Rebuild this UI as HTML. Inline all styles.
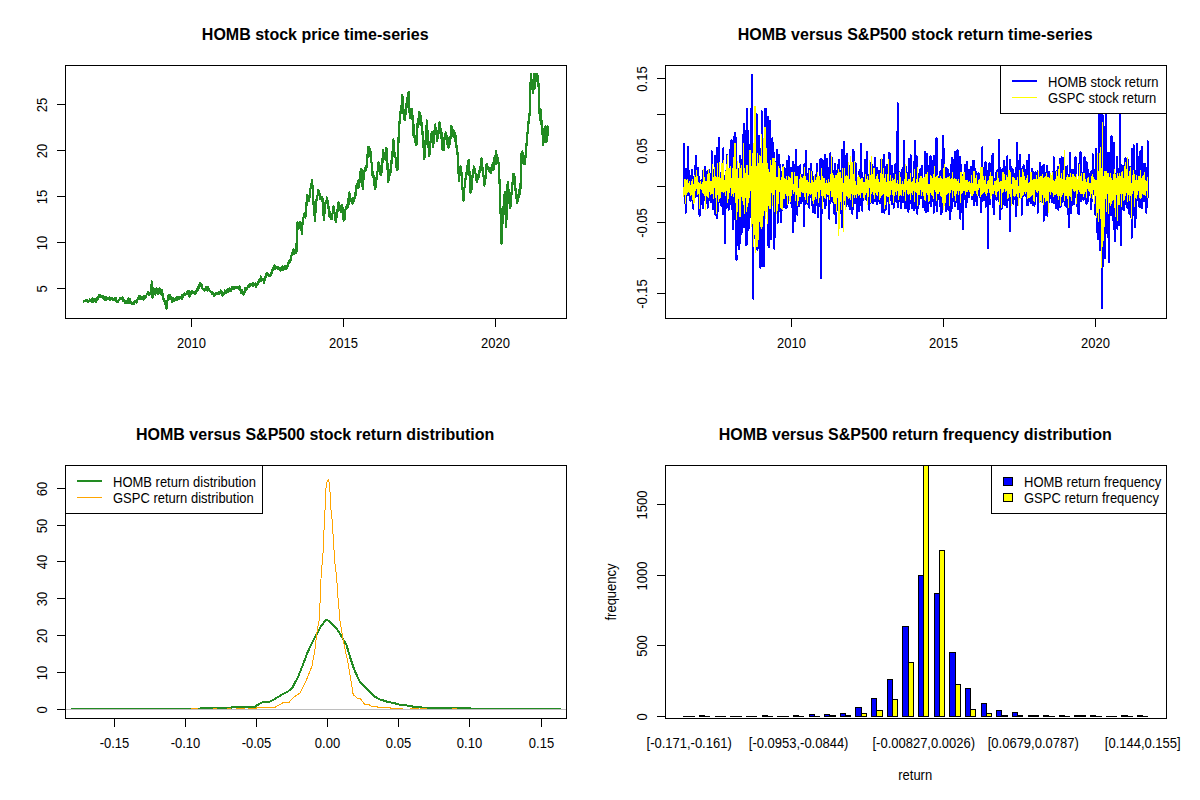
<!DOCTYPE html>
<html><head><meta charset="utf-8"><title>HOMB</title>
<style>html,body{margin:0;padding:0;background:#fff;}svg{display:block;}text{fill:#000;}</style>
</head><body>
<svg width="1200" height="800" viewBox="0 0 1200 800" font-family="Liberation Sans, sans-serif">
<rect width="1200" height="800" fill="#fff"/>
<clipPath id="c00"><rect x="65" y="65" width="502" height="254"/></clipPath>
<clipPath id="c01"><rect x="65" y="465" width="502" height="254"/></clipPath>
<clipPath id="c10"><rect x="665" y="65" width="502" height="254"/></clipPath>
<clipPath id="c11"><rect x="665" y="465" width="502" height="254"/></clipPath>
<g clip-path="url(#c00)">
<polyline points="83.9,301.5 84.4,300.9 84.9,301.3 85.4,300.7 85.9,301.4 86.4,300.0 86.9,301.4 87.4,300.0 87.9,302.3 88.1,301.8 88.4,302.1 88.9,300.8 89.4,301.0 89.9,299.5 90.4,300.2 90.8,299.9 90.9,301.4 91.4,299.3 91.9,302.0 92.4,298.3 92.9,301.8 93.4,299.4 93.9,301.1 94.4,299.3 94.9,299.7 95.4,299.3 95.9,302.3 96.3,299.4 96.4,299.3 96.9,298.5 97.4,299.8 97.9,296.9 98.4,297.9 98.9,295.3 99.0,296.1 99.4,295.2 99.9,296.2 100.4,295.2 100.9,296.9 101.4,296.2 101.9,296.5 102.4,296.3 102.8,296.4 102.9,296.5 103.4,298.9 103.9,296.4 104.4,299.8 104.9,299.6 105.4,300.2 105.9,297.0 106.4,300.0 106.9,297.6 107.4,298.9 107.9,298.0 108.4,298.8 108.9,297.6 109.2,298.3 109.4,297.6 109.9,300.1 110.4,297.8 110.9,298.9 111.4,298.3 111.9,299.1 112.4,297.7 112.9,299.8 113.4,299.1 113.9,300.4 114.4,298.2 114.7,299.6 114.9,298.8 115.4,300.7 115.9,298.0 116.4,301.0 116.9,300.6 117.4,302.4 117.9,301.2 118.4,301.1 118.9,299.9 119.4,300.1 119.9,297.6 120.1,299.1 120.4,298.7 120.9,299.4 121.4,298.8 121.9,299.1 122.4,297.6 122.8,298.8 122.9,298.4 123.4,301.0 123.9,299.7 124.4,301.3 124.9,301.2 125.4,303.1 125.5,302.9 125.9,302.6 126.4,301.6 126.9,303.4 127.4,301.2 127.9,303.2 128.4,298.6 128.8,300.7 128.9,299.8 129.4,301.5 129.9,299.3 130.4,303.3 130.9,302.1 131.4,303.5 131.5,303.4 131.9,303.5 132.4,302.9 132.9,303.7 133.4,302.2 133.9,303.8 134.4,302.3 134.9,302.3 135.4,300.9 135.9,302.2 136.3,301.8 136.4,302.8 136.9,300.7 137.4,300.3 137.9,298.8 138.4,298.8 138.9,295.7 139.4,298.5 139.6,296.9 139.9,299.4 140.4,296.2 140.9,299.4 141.4,296.7 141.9,298.7 142.4,297.1 142.9,298.3 143.0,298.2 143.4,299.5 143.9,296.4 144.4,297.9 144.9,297.4 145.4,297.8 145.9,296.4 146.0,297.5 146.4,295.3 146.9,294.0 147.0,293.5 147.4,294.2 147.9,292.0 148.4,294.9 148.9,293.3 149.4,294.6 149.9,293.5 150.0,293.5 150.4,292.3 150.9,292.3 151.2,291.0 151.4,288.3 151.8,281.5 151.9,286.1 152.3,296.5 152.4,297.7 152.9,291.5 153.4,289.9 153.5,288.0 153.9,291.2 154.4,289.9 154.9,293.8 155.0,294.0 155.4,294.4 155.9,289.6 156.4,288.4 156.5,288.0 156.9,290.5 157.4,291.1 157.9,294.2 158.0,294.0 158.4,293.7 158.9,289.0 159.4,289.9 159.5,288.0 159.9,289.8 160.4,291.3 160.9,293.6 161.0,293.5 161.4,292.8 161.9,290.0 162.0,290.0 162.4,293.4 162.9,299.0 163.0,298.5 163.4,299.3 163.9,298.8 164.4,301.5 164.5,300.0 164.9,303.0 165.4,304.0 165.9,307.1 166.4,307.9 166.5,308.8 166.9,304.5 167.4,301.4 167.5,300.0 167.9,299.8 168.4,295.4 168.5,296.0 168.9,295.3 169.4,298.7 169.9,295.2 170.0,297.0 170.4,295.8 170.9,299.5 171.4,298.3 171.9,300.3 172.0,300.5 172.4,302.4 172.9,298.1 173.4,300.8 173.9,300.4 174.4,300.8 174.9,300.5 175.0,300.5 175.4,298.3 175.9,299.6 176.4,297.6 176.9,300.0 177.0,298.0 177.4,298.1 177.9,297.5 178.4,299.1 178.9,297.3 179.4,299.1 179.9,297.0 180.0,298.0 180.4,296.8 180.9,297.8 181.4,296.6 181.9,299.0 182.4,294.7 182.9,297.0 183.4,295.5 183.9,295.3 184.4,293.3 184.9,295.1 185.0,294.5 185.4,294.5 185.9,294.1 186.4,294.3 186.9,292.5 187.4,293.7 187.9,291.0 188.4,294.1 188.9,290.9 189.4,296.6 189.9,292.1 190.4,294.1 190.9,292.3 191.4,293.5 191.9,291.0 192.0,292.0 192.4,292.0 192.9,292.5 193.4,292.6 193.9,293.0 194.4,292.3 194.9,294.1 195.0,293.5 195.4,294.0 195.9,291.3 196.4,291.8 196.9,288.8 197.4,290.6 197.9,288.1 198.4,287.4 198.9,285.0 199.4,287.5 199.9,283.0 200.0,284.5 200.4,284.3 200.9,286.4 201.4,283.9 201.9,288.0 202.4,288.4 202.9,289.4 203.0,289.5 203.4,289.7 203.9,289.1 204.4,290.6 204.9,288.7 205.4,289.0 205.9,287.2 206.4,289.5 206.9,288.3 207.4,290.7 207.9,286.7 208.0,288.5 208.4,287.9 208.9,290.2 209.4,289.9 209.9,290.8 210.4,290.8 210.9,291.9 211.4,292.1 211.9,294.4 212.4,292.6 212.9,293.9 213.4,293.7 213.9,295.6 214.0,295.0 214.4,295.4 214.9,294.5 215.4,294.7 215.9,292.8 216.4,293.9 216.9,292.6 217.4,293.7 217.9,292.8 218.4,293.1 218.9,292.4 219.4,294.1 219.9,291.8 220.4,292.8 220.9,290.5 221.0,291.5 221.4,291.5 221.9,294.8 222.4,293.6 222.9,295.5 223.0,295.0 223.4,294.5 223.9,292.8 224.4,293.9 224.9,290.5 225.4,292.5 225.9,291.4 226.0,291.5 226.4,290.9 226.9,292.5 227.4,289.5 227.9,292.0 228.4,289.3 228.9,291.3 229.4,288.1 229.9,289.8 230.4,288.7 230.9,291.3 231.0,289.0 231.4,289.6 231.9,287.2 232.4,288.6 232.9,286.8 233.4,289.4 233.9,287.1 234.4,289.0 234.9,287.3 235.4,288.1 235.9,287.4 236.4,287.7 236.9,287.0 237.4,287.5 237.9,287.0 238.0,287.0 238.4,287.4 238.9,288.6 239.4,286.5 239.9,289.9 240.4,289.7 240.9,292.3 241.0,290.5 241.4,293.4 241.9,290.3 242.4,293.7 242.9,292.7 243.4,294.5 243.5,294.5 243.9,294.0 244.4,291.7 244.9,292.1 245.4,287.8 245.9,289.5 246.0,289.0 246.4,289.9 246.9,288.0 247.4,287.8 247.9,285.8 248.4,286.7 248.9,284.8 249.4,286.9 249.9,283.9 250.4,285.8 250.9,283.6 251.0,284.0 251.4,283.9 251.9,284.6 252.4,283.8 252.9,285.8 253.4,282.8 253.9,285.4 254.4,284.3 254.9,284.9 255.4,283.6 255.9,286.8 256.4,284.0 256.9,285.2 257.0,285.0 257.4,284.8 257.9,282.4 258.4,283.0 258.9,280.5 259.4,282.2 259.9,279.4 260.4,280.0 260.9,276.5 261.0,278.5 261.4,278.1 261.9,280.6 262.4,279.0 262.9,280.1 263.4,278.8 263.9,283.3 264.0,280.5 264.4,281.4 264.9,277.8 265.4,277.7 265.9,274.5 266.4,275.7 266.9,273.1 267.0,274.0 267.4,273.0 267.9,275.0 268.4,273.7 268.9,275.8 269.4,275.1 269.9,276.0 270.0,276.0 270.4,276.0 270.9,273.6 271.4,274.1 271.9,270.2 272.4,270.7 272.9,268.4 273.4,270.3 273.9,267.2 274.0,267.0 274.4,265.6 274.9,267.9 275.4,266.0 275.9,268.5 276.0,266.5 276.4,267.3 276.9,267.0 277.4,268.7 277.9,267.4 278.4,268.8 278.9,268.3 279.4,269.5 279.9,268.6 280.0,270.0 280.4,269.7 280.9,270.6 281.4,267.9 281.9,268.8 282.4,266.2 282.9,268.9 283.0,268.0 283.4,270.2 283.9,267.8 284.4,269.2 284.9,265.8 285.4,269.1 285.9,266.7 286.4,269.0 286.9,267.0 287.0,267.5 287.4,265.6 287.9,266.0 288.4,263.0 288.9,263.3 289.4,260.2 289.9,262.0 290.0,260.0 290.4,261.5 290.9,256.8 291.4,256.2 291.9,254.3 292.4,253.0 292.9,251.2 293.0,251.0 293.4,249.5 293.9,253.7 294.4,249.8 294.9,253.6 295.4,250.5 295.9,253.1 296.4,250.5 296.5,252.0 296.8,228.6 296.9,231.3 297.4,222.3 297.9,228.5 298.4,224.8 298.9,228.6 299.4,226.0 299.9,226.2 300.4,222.1 300.9,226.9 301.1,224.7 301.4,229.6 301.9,232.5 302.0,234.3 302.4,224.5 302.9,220.8 303.4,218.4 303.9,216.3 304.4,213.6 304.6,212.9 304.9,214.6 305.4,217.8 305.9,205.0 306.4,206.2 306.9,197.5 307.2,195.4 307.4,195.7 307.9,198.9 308.4,196.9 308.9,200.5 309.0,200.6 309.4,197.9 309.9,191.0 310.4,189.5 310.9,186.1 311.4,186.5 311.9,179.5 312.1,181.4 312.4,184.3 312.9,193.8 313.4,200.6 313.9,209.7 314.4,211.9 314.9,220.8 315.0,219.0 315.4,213.4 315.9,199.7 316.0,203.2 316.4,201.0 316.9,199.6 317.4,195.8 317.9,195.6 318.4,189.7 318.6,191.4 318.9,191.2 319.4,195.0 319.9,193.7 320.4,198.9 320.9,198.3 321.4,198.7 321.9,197.0 322.1,198.0 322.4,197.4 322.9,208.8 323.4,213.3 323.9,219.9 324.4,213.9 324.9,211.2 325.4,203.8 325.6,202.4 325.9,201.1 326.4,202.3 326.9,197.5 327.4,202.3 327.8,200.6 327.9,204.1 328.4,205.6 328.9,214.4 329.4,213.3 329.6,217.2 329.9,211.5 330.4,217.8 330.9,213.4 331.4,219.4 331.8,216.4 331.9,218.7 332.4,213.2 332.9,212.8 333.4,206.2 333.9,208.5 334.4,212.0 334.9,216.5 335.4,217.0 335.7,222.0 335.9,219.7 336.4,218.0 336.9,213.3 337.4,212.4 337.9,204.6 338.3,203.7 338.4,202.2 338.9,207.0 339.4,204.6 339.9,209.8 340.4,209.7 340.9,212.0 341.4,207.0 341.9,210.8 342.2,205.0 342.4,206.6 342.9,210.5 343.4,219.9 343.8,219.9 343.9,220.6 344.4,214.5 344.9,218.7 345.4,209.8 345.8,208.5 345.9,207.4 346.4,209.1 346.9,206.9 347.4,208.2 347.9,198.9 348.4,205.0 348.8,195.8 348.9,197.8 349.4,192.6 349.9,200.9 350.4,198.2 350.9,200.8 351.4,199.0 351.9,203.4 352.4,202.9 352.8,203.7 352.9,198.4 353.4,202.3 353.9,200.3 354.4,199.6 354.9,194.2 355.4,196.2 355.9,186.6 356.2,186.6 356.4,186.0 356.9,186.7 357.4,183.5 357.9,188.4 358.4,180.8 358.9,187.3 359.3,184.4 359.4,184.1 359.8,174.4 359.9,177.2 360.4,171.2 360.9,173.0 361.4,168.8 361.5,170.0 361.9,174.8 362.4,185.6 362.8,188.0 362.9,189.1 363.4,179.9 363.9,176.4 364.1,171.8 364.4,172.3 364.9,168.2 365.4,170.9 365.9,170.3 366.4,168.7 366.9,159.1 367.4,158.2 367.9,148.0 368.4,155.6 368.5,146.7 368.9,148.0 369.4,148.3 369.9,155.8 370.4,151.3 370.5,152.0 370.9,155.5 371.4,162.3 371.9,163.1 372.4,175.7 372.5,171.6 372.9,176.3 373.4,175.3 373.9,181.2 374.4,183.5 374.9,189.1 375.1,188.7 375.4,188.0 375.9,180.6 376.4,180.7 376.9,173.1 377.0,175.5 377.4,171.7 377.9,169.4 378.4,162.4 378.9,165.4 379.4,164.7 379.9,174.2 380.4,168.3 380.9,174.9 381.0,174.2 381.4,173.5 381.9,165.6 382.4,163.7 382.9,149.9 383.0,155.9 383.4,154.4 383.9,159.4 384.4,153.2 384.9,156.9 385.4,152.5 385.9,160.5 386.4,147.7 386.9,153.2 387.4,162.1 387.9,181.6 388.2,182.1 388.4,181.4 388.9,176.4 389.4,176.5 389.9,170.2 390.4,173.4 390.9,163.7 391.4,164.2 391.5,161.1 391.9,159.5 392.4,151.6 392.9,156.4 393.4,139.2 393.5,142.7 393.9,141.8 394.4,156.5 394.9,153.3 395.4,157.2 395.9,157.5 396.4,167.7 396.9,165.4 397.4,170.3 397.9,149.9 398.4,144.3 398.7,134.9 398.9,133.0 399.4,123.9 399.9,118.0 400.0,115.2 400.4,114.6 400.9,106.0 401.4,112.4 401.9,101.3 402.0,100.7 402.4,95.1 402.9,113.2 403.4,108.3 403.9,117.9 404.4,113.0 404.6,120.4 404.9,117.6 405.4,114.8 405.9,109.0 406.4,107.0 406.6,103.4 406.9,106.6 407.4,97.4 407.9,106.7 408.4,93.4 408.8,91.6 408.9,91.6 409.4,109.0 409.9,117.8 410.4,116.2 410.9,109.1 411.4,111.7 411.8,108.6 411.9,116.7 412.4,114.9 412.9,125.6 413.1,128.3 413.4,135.6 413.9,125.0 414.4,137.6 414.9,135.6 415.4,142.7 415.9,140.6 416.4,145.4 416.9,129.8 417.4,129.1 417.7,120.4 417.9,123.1 418.4,118.2 418.9,124.1 419.4,112.0 419.9,121.9 420.4,114.3 420.9,123.0 421.0,120.4 421.4,125.3 421.9,122.5 422.4,134.0 422.9,132.2 423.0,138.8 423.4,141.6 423.9,156.6 424.3,158.5 424.4,159.2 424.9,142.8 425.4,144.9 425.9,134.6 426.4,129.1 426.9,120.4 427.4,130.3 427.9,135.0 428.4,147.1 428.9,148.5 429.3,155.9 429.4,153.4 429.9,154.3 430.4,143.0 430.9,139.0 431.3,133.6 431.4,139.4 431.9,131.5 432.4,141.4 432.9,140.0 433.2,146.8 433.4,144.0 433.9,139.6 434.4,130.8 434.9,128.2 435.2,124.4 435.4,128.3 435.9,127.6 436.4,134.8 436.9,135.3 437.2,141.5 437.4,136.5 437.9,138.6 438.4,130.4 438.9,133.4 439.4,122.5 439.8,124.4 439.9,125.1 440.4,132.9 440.9,129.3 441.4,138.6 441.9,133.0 442.4,149.8 442.9,147.0 443.1,150.0 443.4,146.9 443.9,149.9 444.4,137.6 444.9,138.3 445.1,133.6 445.4,134.7 445.9,132.4 446.4,139.5 446.9,136.3 447.4,144.1 447.9,138.2 448.4,147.8 448.9,143.0 449.0,144.1 449.4,140.9 449.9,144.2 450.4,136.7 450.9,137.7 451.4,125.8 451.9,136.3 452.4,129.6 452.9,129.7 453.4,129.7 453.9,136.8 454.4,131.5 454.9,141.2 455.4,134.7 455.6,136.2 455.9,138.3 456.4,147.7 456.9,145.9 457.4,154.0 457.5,152.0 457.9,163.8 458.4,165.5 458.8,180.9 458.9,179.4 459.4,177.0 459.9,167.4 460.4,172.2 460.8,166.4 460.9,169.2 461.4,172.0 461.9,182.1 462.4,186.6 462.9,194.7 463.4,200.6 463.9,196.1 464.4,187.8 464.9,186.2 465.4,178.8 465.9,179.5 466.0,175.6 466.4,175.3 466.9,167.0 467.4,168.0 467.9,161.1 468.4,165.4 468.7,159.9 468.9,169.8 469.4,171.0 469.9,182.3 470.4,188.2 470.6,192.7 470.9,186.4 471.4,190.3 471.9,179.5 472.4,178.7 472.9,170.2 473.4,171.0 473.9,166.4 474.4,169.7 474.9,168.9 475.4,173.7 475.9,174.5 476.4,179.9 476.9,174.5 477.2,182.2 477.4,179.3 477.9,179.4 478.4,176.5 478.9,177.6 479.4,170.7 479.9,172.1 480.4,167.0 480.9,169.1 481.4,158.5 481.8,161.2 481.9,160.0 482.4,170.3 482.9,167.6 483.4,176.4 483.9,177.0 484.4,185.5 484.9,177.7 485.4,178.9 485.9,168.9 486.4,165.1 486.9,163.7 487.4,168.9 487.9,166.6 488.4,168.6 488.9,167.7 489.4,171.8 489.9,170.9 490.4,172.1 490.9,171.1 491.0,173.0 491.4,168.1 491.9,170.3 492.4,165.0 492.9,169.8 493.4,162.2 493.9,169.6 494.4,157.6 494.9,161.2 495.4,155.6 495.6,155.9 495.9,150.8 496.4,164.1 496.9,155.3 497.4,161.7 497.9,157.9 498.4,163.9 498.9,162.5 499.4,178.3 499.9,191.4 500.4,207.7 500.9,221.5 501.4,243.8 501.5,243.0 501.9,237.4 502.4,224.2 502.9,217.3 503.1,213.0 503.4,210.0 503.9,200.3 504.4,198.5 504.7,192.2 504.9,197.2 505.4,208.4 505.9,224.1 506.1,226.9 506.4,220.8 506.9,204.3 507.4,190.5 507.7,181.8 507.9,187.1 508.4,189.0 508.9,196.3 509.4,201.1 509.9,207.4 510.0,208.4 510.4,207.0 510.9,198.5 511.4,195.7 511.9,187.3 512.4,185.6 512.9,178.5 513.4,176.0 513.5,173.7 513.9,178.1 514.4,176.0 514.9,188.0 515.4,187.6 515.9,194.5 516.4,196.5 516.9,201.9 517.0,202.6 517.4,201.8 517.9,194.6 518.4,198.0 518.9,189.6 519.4,194.6 519.9,189.8 520.4,189.9 520.9,173.8 521.4,160.0 521.6,152.9 521.9,159.7 522.4,151.4 522.9,163.3 523.4,154.5 523.9,164.4 524.4,157.0 524.9,164.0 525.0,162.1 525.4,158.5 525.9,150.6 526.4,146.2 526.9,138.1 527.4,134.4 527.9,128.6 528.4,124.8 528.9,115.3 529.4,116.7 529.7,111.2 529.9,108.6 530.4,89.0 530.8,76.6 530.9,74.0 531.4,82.1 531.9,79.8 532.4,89.0 532.9,87.1 533.2,92.8 533.4,85.1 533.9,89.0 534.4,74.0 534.9,87.8 535.4,74.0 535.9,80.4 536.2,74.2 536.4,79.9 536.9,74.0 537.4,81.7 537.9,75.8 538.4,85.9 538.9,83.5 539.4,113.6 539.9,109.0 540.4,120.2 540.9,110.1 541.2,120.5 541.4,119.8 541.9,130.5 542.4,127.8 542.9,145.4 543.1,143.6 543.4,143.8 543.9,131.1 544.4,133.3 544.7,127.4 544.9,129.3 545.4,126.3 545.9,141.6 546.3,139.0 546.4,142.1 546.9,131.6 547.4,128.3 547.5,126.3 547.9,134.3 548.0,135.0" fill="none" stroke="#228B22" stroke-width="2.2" stroke-linejoin="round" stroke-linecap="round" shape-rendering="crispEdges"/>
</g>
<rect x="65.5" y="65.5" width="501" height="253" fill="none" stroke="#000" stroke-width="1"/>
<line x1="191.5" y1="318" x2="191.5" y2="327" stroke="#000" stroke-width="1"/>
<text x="0" y="0" transform="translate(191.50,348.00) scale(1,1.075)" text-anchor="middle" font-size="13">2010</text>
<line x1="343.5" y1="318" x2="343.5" y2="327" stroke="#000" stroke-width="1"/>
<text x="0" y="0" transform="translate(343.50,348.00) scale(1,1.075)" text-anchor="middle" font-size="13">2015</text>
<line x1="495.5" y1="318" x2="495.5" y2="327" stroke="#000" stroke-width="1"/>
<text x="0" y="0" transform="translate(495.50,348.00) scale(1,1.075)" text-anchor="middle" font-size="13">2020</text>
<line x1="57" y1="288.5" x2="66" y2="288.5" stroke="#000" stroke-width="1"/>
<text x="0" y="0" transform="translate(47.30,289.00) rotate(-90) scale(1,1.075)" text-anchor="middle" font-size="13">5</text>
<line x1="57" y1="242.5" x2="66" y2="242.5" stroke="#000" stroke-width="1"/>
<text x="0" y="0" transform="translate(47.30,243.00) rotate(-90) scale(1,1.075)" text-anchor="middle" font-size="13">10</text>
<line x1="57" y1="196.5" x2="66" y2="196.5" stroke="#000" stroke-width="1"/>
<text x="0" y="0" transform="translate(47.30,197.00) rotate(-90) scale(1,1.075)" text-anchor="middle" font-size="13">15</text>
<line x1="57" y1="150.5" x2="66" y2="150.5" stroke="#000" stroke-width="1"/>
<text x="0" y="0" transform="translate(47.30,151.00) rotate(-90) scale(1,1.075)" text-anchor="middle" font-size="13">20</text>
<line x1="57" y1="104.5" x2="66" y2="104.5" stroke="#000" stroke-width="1"/>
<text x="0" y="0" transform="translate(47.30,105.00) rotate(-90) scale(1,1.075)" text-anchor="middle" font-size="13">25</text>
<text x="0" y="0" transform="translate(315.20,40.00) scale(1,1.0)" text-anchor="middle" font-size="16" font-weight="bold">HOMB stock price time-series</text>
<g clip-path="url(#c10)">
<polyline points="683.9,196.2 684.0,144.0 684.1,185.0 684.3,195.6 684.4,174.7 684.5,184.8 684.6,172.4 684.7,202.7 684.9,178.1 685.0,185.9 685.1,191.5 685.2,175.5 685.3,188.9 685.5,198.7 685.6,212.9 685.7,193.9 685.8,183.1 685.9,190.8 686.1,193.9 686.2,199.7 686.3,172.4 686.4,168.5 686.6,193.6 686.7,180.7 686.8,193.5 686.9,190.8 687.0,175.9 687.2,184.2 687.3,173.8 687.4,179.2 687.5,191.9 687.6,178.8 687.8,146.5 687.9,195.2 688.0,192.1 688.1,194.0 688.2,177.1 688.4,186.6 688.5,184.2 688.6,183.6 688.7,186.2 688.8,192.6 689.0,170.5 689.1,177.2 689.2,189.1 689.3,186.4 689.4,196.1 689.6,189.5 689.7,197.6 689.8,198.2 689.9,191.6 690.0,200.1 690.2,193.3 690.3,200.7 690.4,182.4 690.5,198.5 690.7,184.0 690.8,199.8 690.9,186.9 691.0,185.5 691.1,185.9 691.3,185.4 691.4,193.8 691.5,175.5 691.6,192.3 691.7,182.5 691.9,192.5 692.0,170.2 692.1,192.3 692.2,180.7 692.3,178.8 692.5,190.5 692.6,181.4 692.7,183.2 692.8,197.1 692.9,188.6 693.1,186.3 693.2,178.7 693.3,208.8 693.4,187.4 693.5,200.7 693.7,195.6 693.8,190.1 693.9,179.6 694.0,195.1 694.1,179.2 694.3,189.4 694.4,180.6 694.5,176.0 694.6,198.1 694.8,166.4 694.9,170.2 695.0,176.8 695.1,188.4 695.2,192.2 695.4,186.4 695.5,179.8 695.6,180.2 695.7,172.9 695.8,182.3 696.0,190.5 696.1,191.4 696.2,169.5 696.3,186.9 696.4,155.6 696.6,178.1 696.7,191.3 696.8,187.9 696.9,189.5 697.0,192.8 697.2,195.4 697.3,196.1 697.4,185.2 697.5,187.7 697.6,193.5 697.8,187.8 697.9,167.7 698.0,189.2 698.1,185.7 698.2,183.3 698.4,184.2 698.5,182.8 698.6,182.5 698.7,177.7 698.9,177.1 699.0,194.7 699.1,179.2 699.2,187.2 699.3,178.5 699.5,214.8 699.6,215.7 699.7,191.5 699.8,187.2 699.9,181.0 700.1,181.9 700.2,187.2 700.3,200.0 700.4,182.4 700.5,191.7 700.7,196.2 700.8,181.6 700.9,183.7 701.0,186.4 701.1,193.8 701.3,181.5 701.4,182.1 701.5,186.5 701.6,190.7 701.7,183.1 701.9,192.7 702.0,182.4 702.1,204.0 702.2,196.9 702.3,179.7 702.5,186.5 702.6,189.4 702.7,208.2 702.8,197.4 703.0,171.0 703.1,189.8 703.2,187.6 703.3,188.3 703.4,177.3 703.6,191.2 703.7,189.5 703.8,177.0 703.9,187.1 704.0,175.4 704.2,199.2 704.3,188.7 704.4,199.6 704.5,185.1 704.6,186.1 704.8,166.7 704.9,185.3 705.0,190.4 705.1,192.0 705.2,187.1 705.4,191.7 705.5,178.6 705.6,188.7 705.7,192.8 705.8,203.2 706.0,197.4 706.1,185.7 706.2,188.9 706.3,187.5 706.4,189.3 706.6,184.3 706.7,197.0 706.8,179.5 706.9,186.4 707.1,185.7 707.2,194.0 707.3,193.8 707.4,182.2 707.5,170.7 707.7,207.6 707.8,174.4 707.9,192.6 708.0,196.3 708.1,180.8 708.3,193.9 708.4,183.1 708.5,173.2 708.6,180.4 708.7,196.3 708.9,169.7 709.0,191.9 709.1,180.1 709.2,177.7 709.3,200.0 709.5,188.4 709.6,191.6 709.7,183.6 709.8,179.5 709.9,191.8 710.1,191.6 710.2,182.8 710.3,187.5 710.4,200.2 710.5,191.3 710.7,185.2 710.8,193.3 710.9,187.2 711.0,202.4 711.2,183.0 711.3,173.7 711.4,177.1 711.5,193.4 711.6,150.8 711.8,200.6 711.9,170.4 712.0,175.0 712.1,184.0 712.2,195.9 712.4,161.7 712.5,189.8 712.6,205.6 712.7,176.0 712.8,196.8 713.0,180.7 713.1,188.1 713.2,209.5 713.3,184.3 713.4,184.0 713.6,178.1 713.7,169.8 713.8,171.8 713.9,198.8 714.0,183.1 714.2,175.6 714.3,190.2 714.4,182.1 714.5,191.2 714.6,187.5 714.8,164.3 714.9,171.7 715.0,190.9 715.1,155.9 715.2,184.4 715.4,197.7 715.5,215.4 715.6,185.3 715.7,177.9 715.9,196.7 716.0,168.4 716.1,186.1 716.2,191.5 716.3,168.7 716.5,177.7 716.6,188.6 716.7,163.5 716.8,201.7 716.9,217.8 717.1,147.8 717.2,195.8 717.3,200.2 717.4,198.7 717.5,182.9 717.7,183.6 717.8,173.8 717.9,196.6 718.0,173.7 718.1,154.5 718.3,180.8 718.4,210.9 718.5,174.6 718.6,178.0 718.7,202.8 718.9,164.0 719.0,138.0 719.1,164.8 719.2,149.8 719.3,199.1 719.5,196.6 719.6,181.3 719.7,172.9 719.8,189.9 720.0,183.9 720.1,180.4 720.2,179.6 720.3,202.4 720.4,190.3 720.6,200.9 720.7,182.0 720.8,178.0 720.9,200.7 721.0,187.7 721.2,199.8 721.3,204.2 721.4,206.1 721.5,189.3 721.6,172.2 721.8,203.8 721.9,180.9 722.0,171.5 722.1,173.9 722.2,182.8 722.4,180.2 722.5,180.6 722.6,176.5 722.7,210.4 722.8,195.1 723.0,182.8 723.1,214.2 723.2,177.0 723.3,148.2 723.4,185.5 723.6,194.6 723.7,199.8 723.8,195.6 723.9,182.2 724.1,196.6 724.2,188.3 724.3,211.9 724.4,176.4 724.5,180.9 724.7,187.9 724.8,177.5 724.9,216.9 725.0,243.0 725.1,211.9 725.3,186.0 725.4,188.6 725.5,196.6 725.6,187.8 725.7,170.8 725.9,171.7 726.0,177.2 726.1,189.2 726.2,191.4 726.3,203.3 726.5,176.2 726.6,177.8 726.7,207.6 726.8,196.8 726.9,154.9 727.1,167.5 727.2,189.5 727.3,195.0 727.4,190.7 727.5,176.9 727.7,198.8 727.8,170.6 727.9,183.2 728.0,192.8 728.2,202.5 728.3,187.6 728.4,203.0 728.5,199.2 728.6,209.7 728.8,199.5 728.9,183.6 729.0,193.9 729.1,172.3 729.2,178.3 729.4,185.4 729.5,195.6 729.6,175.3 729.7,186.8 729.8,174.1 730.0,201.9 730.1,150.0 730.2,183.9 730.3,173.9 730.4,199.3 730.6,174.0 730.7,199.8 730.8,144.1 730.9,203.8 731.0,178.2 731.2,186.3 731.3,182.1 731.4,156.2 731.5,140.0 731.6,199.1 731.8,209.6 731.9,142.6 732.0,199.6 732.1,196.6 732.3,187.9 732.4,146.6 732.5,188.0 732.6,150.8 732.7,197.4 732.9,228.9 733.0,168.0 733.1,184.1 733.2,178.4 733.3,155.0 733.5,193.0 733.6,173.8 733.7,202.9 733.8,156.1 733.9,154.4 734.1,175.1 734.2,190.5 734.3,136.7 734.4,198.7 734.5,219.1 734.7,195.9 734.8,189.6 734.9,191.8 735.0,133.1 735.1,168.7 735.3,199.8 735.4,161.7 735.5,188.0 735.6,193.5 735.7,185.3 735.9,198.1 736.0,220.0 736.1,210.9 736.2,137.5 736.4,189.2 736.5,259.5 736.6,194.3 736.7,180.5 736.8,174.0 737.0,219.5 737.1,192.3 737.2,180.8 737.3,203.3 737.4,180.9 737.6,181.1 737.7,229.9 737.8,201.7 737.9,176.5 738.0,195.8 738.2,195.0 738.3,193.9 738.4,201.8 738.5,168.7 738.6,183.4 738.8,199.9 738.9,185.2 739.0,200.0 739.1,188.0 739.2,249.0 739.4,209.8 739.5,177.1 739.6,211.2 739.7,180.1 739.8,206.9 740.0,242.7 740.1,164.0 740.2,155.5 740.3,180.7 740.5,196.9 740.6,169.7 740.7,192.5 740.8,199.8 740.9,185.8 741.1,190.0 741.2,215.3 741.3,169.3 741.4,195.3 741.5,234.4 741.7,206.8 741.8,217.6 741.9,160.2 742.0,191.4 742.1,177.5 742.3,206.1 742.4,172.9 742.5,183.6 742.6,192.2 742.7,181.4 742.9,190.3 743.0,199.0 743.1,180.6 743.2,134.4 743.3,223.2 743.5,163.2 743.6,205.0 743.7,177.7 743.8,201.3 743.9,123.5 744.1,215.5 744.2,183.0 744.3,227.5 744.4,226.3 744.6,205.9 744.7,178.6 744.8,183.1 744.9,207.8 745.0,177.3 745.2,131.4 745.3,166.4 745.4,161.3 745.5,145.0 745.6,197.5 745.8,245.6 745.9,222.6 746.0,165.1 746.1,226.2 746.2,182.8 746.4,203.7 746.5,167.7 746.6,208.8 746.7,165.4 746.8,244.7 747.0,204.7 747.1,162.6 747.2,108.5 747.3,189.8 747.4,138.0 747.6,221.2 747.7,230.1 747.8,229.9 747.9,210.6 748.0,182.3 748.2,182.8 748.3,131.1 748.4,192.8 748.5,211.0 748.6,229.2 748.8,201.5 748.9,154.8 749.0,179.9 749.1,148.4 749.3,193.5 749.4,224.1 749.5,176.2 749.6,161.2 749.7,172.6 749.9,162.0 750.0,144.6 750.1,152.3 750.2,193.0 750.3,184.6 750.5,216.8 750.6,169.5 750.7,108.5 750.8,193.5 750.9,197.2 751.1,185.6 751.2,174.4 751.3,164.3 751.4,136.2 751.5,200.3 751.7,108.5 751.8,158.9 751.9,216.3 752.0,74.5 752.1,212.4 752.3,155.0 752.4,190.2 752.5,150.1 752.6,155.0 752.7,210.1 752.9,169.9 753.0,196.6 753.1,147.3 753.2,205.5 753.4,299.0 753.5,188.8 753.6,205.1 753.7,202.2 753.8,152.1 754.0,237.9 754.1,191.7 754.2,188.8 754.3,193.7 754.4,201.9 754.6,194.5 754.7,163.3 754.8,160.2 754.9,175.9 755.0,176.0 755.2,224.1 755.3,209.2 755.4,157.1 755.5,207.7 755.6,190.7 755.8,200.0 755.9,169.6 756.0,177.1 756.1,242.8 756.2,196.8 756.4,189.3 756.5,197.0 756.6,205.5 756.7,199.6 756.8,114.3 757.0,186.4 757.1,163.0 757.2,215.4 757.3,182.9 757.5,250.4 757.6,235.1 757.7,208.9 757.8,185.4 757.9,195.1 758.1,201.4 758.2,169.1 758.3,245.9 758.4,241.7 758.5,192.8 758.7,148.9 758.8,136.2 758.9,200.3 759.0,248.6 759.1,190.6 759.3,207.8 759.4,198.4 759.5,213.1 759.6,251.1 759.7,185.3 759.9,198.8 760.0,162.5 760.1,148.4 760.2,158.2 760.3,198.0 760.5,267.5 760.6,225.1 760.7,202.6 760.8,183.0 760.9,207.6 761.1,197.3 761.2,179.9 761.3,197.2 761.4,220.1 761.6,111.0 761.7,266.5 761.8,165.1 761.9,130.7 762.0,266.5 762.2,128.0 762.3,187.4 762.4,169.0 762.5,197.9 762.6,195.7 762.8,202.7 762.9,232.9 763.0,197.8 763.1,188.9 763.2,211.0 763.4,183.1 763.5,146.0 763.6,224.7 763.7,186.5 763.8,216.7 764.0,266.5 764.1,150.6 764.2,151.1 764.3,140.1 764.4,154.5 764.6,180.1 764.7,173.6 764.8,209.3 764.9,166.1 765.0,108.5 765.2,159.2 765.3,196.6 765.4,165.0 765.5,177.6 765.7,199.6 765.8,152.1 765.9,204.8 766.0,108.5 766.1,194.0 766.3,164.9 766.4,175.6 766.5,201.1 766.6,131.5 766.7,161.2 766.9,147.0 767.0,190.5 767.1,201.5 767.2,177.6 767.3,167.2 767.5,163.9 767.6,149.3 767.7,203.5 767.8,245.2 767.9,117.0 768.1,222.7 768.2,203.1 768.3,163.2 768.4,165.9 768.5,215.5 768.7,194.5 768.8,188.0 768.9,154.1 769.0,190.5 769.1,246.8 769.3,176.1 769.4,195.0 769.5,120.5 769.6,161.8 769.8,174.0 769.9,238.3 770.0,181.9 770.1,209.3 770.2,194.8 770.4,205.0 770.5,194.7 770.6,186.9 770.7,211.2 770.8,174.2 771.0,239.0 771.1,219.6 771.2,197.3 771.3,145.1 771.4,150.8 771.6,178.3 771.7,144.4 771.8,174.3 771.9,171.7 772.0,188.1 772.2,195.3 772.3,138.2 772.4,181.9 772.5,142.3 772.6,175.8 772.8,192.3 772.9,195.6 773.0,145.3 773.1,171.4 773.2,198.3 773.4,184.4 773.5,167.0 773.6,157.0 773.7,157.5 773.9,196.6 774.0,152.4 774.1,160.6 774.2,222.0 774.3,177.9 774.5,249.1 774.6,178.4 774.7,229.2 774.8,207.5 774.9,194.5 775.1,187.8 775.2,211.1 775.3,186.2 775.4,197.5 775.5,185.1 775.7,203.8 775.8,173.7 775.9,161.9 776.0,163.3 776.1,188.7 776.3,193.3 776.4,183.1 776.5,193.0 776.6,184.7 776.7,195.9 776.9,189.0 777.0,203.0 777.1,187.6 777.2,150.0 777.3,196.4 777.5,172.3 777.6,222.7 777.7,207.5 777.8,172.9 777.9,185.2 778.1,193.3 778.2,209.1 778.3,196.9 778.4,166.9 778.6,174.6 778.7,211.6 778.8,154.7 778.9,209.1 779.0,170.3 779.2,194.0 779.3,184.2 779.4,189.2 779.5,191.1 779.6,164.4 779.8,185.5 779.9,184.3 780.0,182.3 780.1,193.2 780.2,195.5 780.4,170.9 780.5,184.0 780.6,195.8 780.7,184.8 780.8,222.3 781.0,196.5 781.1,171.8 781.2,205.8 781.3,190.6 781.4,185.1 781.6,187.4 781.7,206.9 781.8,187.9 781.9,200.4 782.0,178.4 782.2,200.8 782.3,204.2 782.4,210.3 782.5,172.8 782.7,206.0 782.8,177.3 782.9,183.6 783.0,201.1 783.1,164.6 783.3,171.2 783.4,205.0 783.5,177.9 783.6,196.3 783.7,178.3 783.9,175.3 784.0,207.3 784.1,171.5 784.2,184.5 784.3,186.4 784.5,186.5 784.6,168.1 784.7,179.9 784.8,175.2 784.9,185.1 785.1,175.8 785.2,180.2 785.3,174.5 785.4,182.4 785.5,180.1 785.7,193.6 785.8,171.7 785.9,188.7 786.0,188.5 786.1,194.2 786.3,198.3 786.4,208.5 786.5,191.1 786.6,197.1 786.8,177.7 786.9,162.6 787.0,190.9 787.1,182.6 787.2,207.0 787.4,160.8 787.5,186.0 787.6,203.8 787.7,178.4 787.8,196.0 788.0,197.4 788.1,179.5 788.2,192.4 788.3,193.7 788.4,188.2 788.6,156.4 788.7,183.7 788.8,188.0 788.9,194.3 789.0,179.5 789.2,195.3 789.3,189.2 789.4,179.5 789.5,195.7 789.6,187.5 789.8,184.8 789.9,178.7 790.0,168.3 790.1,171.3 790.2,185.2 790.4,188.4 790.5,171.2 790.6,181.2 790.7,185.2 790.9,203.1 791.0,175.7 791.1,180.2 791.2,186.7 791.3,167.8 791.5,178.1 791.6,190.4 791.7,201.2 791.8,191.5 791.9,207.4 792.1,186.9 792.2,173.6 792.3,171.3 792.4,180.4 792.5,194.0 792.7,193.5 792.8,172.0 792.9,181.1 793.0,232.0 793.1,162.2 793.3,190.1 793.4,191.7 793.5,215.3 793.6,193.6 793.7,184.3 793.9,194.5 794.0,192.6 794.1,187.1 794.2,180.0 794.3,174.3 794.5,211.4 794.6,173.5 794.7,185.0 794.8,171.2 795.0,189.4 795.1,221.4 795.2,165.1 795.3,187.4 795.4,181.3 795.6,187.9 795.7,179.8 795.8,181.3 795.9,150.2 796.0,181.4 796.2,173.9 796.3,190.7 796.4,175.6 796.5,187.5 796.6,185.3 796.8,189.4 796.9,201.0 797.0,171.5 797.1,194.8 797.2,214.7 797.4,191.9 797.5,184.8 797.6,177.5 797.7,184.2 797.8,178.3 798.0,178.6 798.1,175.8 798.2,167.2 798.3,203.2 798.4,188.3 798.6,190.4 798.7,187.9 798.8,199.7 798.9,206.2 799.1,190.1 799.2,200.4 799.3,184.1 799.4,193.0 799.5,188.3 799.7,203.2 799.8,167.5 799.9,191.3 800.0,168.4 800.1,190.5 800.3,169.6 800.4,164.9 800.5,189.4 800.6,187.2 800.7,183.4 800.9,184.6 801.0,195.5 801.1,203.0 801.2,200.3 801.3,187.7 801.5,191.9 801.6,193.4 801.7,174.6 801.8,175.9 801.9,187.3 802.1,193.2 802.2,196.9 802.3,178.0 802.4,185.9 802.5,186.2 802.7,186.0 802.8,196.3 802.9,192.4 803.0,200.4 803.2,201.1 803.3,181.3 803.4,183.3 803.5,181.5 803.6,175.2 803.8,186.6 803.9,183.0 804.0,226.0 804.1,173.3 804.2,198.6 804.4,195.4 804.5,164.4 804.6,179.6 804.7,180.6 804.8,183.4 805.0,189.5 805.1,175.9 805.2,204.5 805.3,171.5 805.4,181.4 805.6,165.8 805.7,196.7 805.8,183.7 805.9,172.0 806.0,187.9 806.2,150.6 806.3,184.2 806.4,173.2 806.5,180.1 806.6,187.8 806.8,196.7 806.9,190.8 807.0,203.0 807.1,178.9 807.3,200.2 807.4,176.8 807.5,201.7 807.6,186.5 807.7,195.3 807.9,174.0 808.0,182.1 808.1,187.3 808.2,185.8 808.3,184.7 808.5,204.6 808.6,201.4 808.7,190.3 808.8,176.1 808.9,169.0 809.1,194.7 809.2,186.1 809.3,187.3 809.4,207.7 809.5,181.7 809.7,184.9 809.8,195.0 809.9,189.5 810.0,176.7 810.1,184.2 810.3,196.7 810.4,195.3 810.5,194.4 810.6,183.0 810.7,190.0 810.9,186.5 811.0,178.3 811.1,175.9 811.2,164.0 811.3,186.5 811.5,170.6 811.6,198.7 811.7,192.2 811.8,183.4 812.0,184.9 812.1,191.5 812.2,204.8 812.3,180.4 812.4,181.9 812.6,183.1 812.7,194.3 812.8,177.1 812.9,180.9 813.0,183.8 813.2,206.4 813.3,212.3 813.4,212.5 813.5,196.0 813.6,196.5 813.8,182.9 813.9,183.3 814.0,180.1 814.1,186.4 814.2,210.1 814.4,187.3 814.5,205.1 814.6,213.5 814.7,177.6 814.8,183.5 815.0,175.7 815.1,179.9 815.2,192.8 815.3,192.4 815.4,189.5 815.6,198.5 815.7,196.7 815.8,176.3 815.9,203.2 816.1,184.9 816.2,204.3 816.3,193.2 816.4,175.1 816.5,174.1 816.7,205.5 816.8,189.5 816.9,171.0 817.0,163.4 817.1,184.8 817.3,185.3 817.4,190.1 817.5,186.5 817.6,186.2 817.7,186.9 817.9,180.0 818.0,197.1 818.1,196.7 818.2,217.6 818.3,194.4 818.5,177.5 818.6,184.3 818.7,177.9 818.8,186.5 818.9,189.4 819.1,200.5 819.2,177.9 819.3,205.9 819.4,183.6 819.5,187.2 819.7,178.9 819.8,173.2 819.9,196.0 820.0,193.9 820.2,199.0 820.3,182.5 820.4,159.1 820.5,189.4 820.6,196.4 820.8,199.7 820.9,182.1 821.0,278.0 821.1,187.6 821.2,190.7 821.4,186.3 821.5,158.9 821.6,179.3 821.7,190.2 821.8,186.0 822.0,190.8 822.1,175.9 822.2,206.6 822.3,212.9 822.4,189.4 822.6,188.2 822.7,190.4 822.8,190.0 822.9,194.2 823.0,186.4 823.2,160.5 823.3,189.5 823.4,199.6 823.5,186.8 823.6,190.6 823.8,194.3 823.9,192.6 824.0,167.2 824.1,163.9 824.3,200.9 824.4,179.6 824.5,188.2 824.6,185.3 824.7,183.5 824.9,182.1 825.0,207.7 825.1,154.9 825.2,205.9 825.3,177.8 825.5,178.9 825.6,178.4 825.7,183.7 825.8,164.3 825.9,196.1 826.1,184.2 826.2,204.9 826.3,193.8 826.4,194.5 826.5,198.9 826.7,181.8 826.8,190.0 826.9,195.9 827.0,158.8 827.1,193.7 827.3,187.6 827.4,194.1 827.5,184.8 827.6,193.4 827.7,188.1 827.9,192.6 828.0,181.1 828.1,182.4 828.2,171.4 828.4,191.2 828.5,175.6 828.6,189.9 828.7,184.0 828.8,167.5 829.0,190.5 829.1,181.3 829.2,193.3 829.3,199.0 829.4,219.1 829.6,182.1 829.7,190.5 829.8,180.6 829.9,202.9 830.0,200.0 830.2,180.8 830.3,182.7 830.4,153.2 830.5,175.1 830.6,187.0 830.8,192.7 830.9,181.5 831.0,175.5 831.1,188.8 831.2,181.5 831.4,193.3 831.5,174.5 831.6,159.8 831.7,185.4 831.8,201.3 832.0,157.9 832.1,182.3 832.2,185.7 832.3,179.9 832.5,202.0 832.6,189.1 832.7,184.5 832.8,191.9 832.9,170.9 833.1,175.9 833.2,197.5 833.3,180.7 833.4,184.3 833.5,182.7 833.7,181.7 833.8,189.0 833.9,191.2 834.0,177.3 834.1,189.1 834.3,192.7 834.4,193.9 834.5,214.3 834.6,173.1 834.7,174.3 834.9,163.9 835.0,177.3 835.1,189.0 835.2,190.1 835.3,183.1 835.5,198.6 835.6,216.2 835.7,190.2 835.8,170.9 835.9,185.4 836.1,190.4 836.2,223.4 836.3,182.6 836.4,174.6 836.6,187.7 836.7,189.3 836.8,198.4 836.9,189.5 837.0,185.3 837.2,192.5 837.3,189.3 837.4,180.4 837.5,197.0 837.6,182.4 837.8,171.8 837.9,164.6 838.0,204.3 838.1,186.9 838.2,195.0 838.4,189.6 838.5,211.0 838.6,180.3 838.7,187.5 838.8,159.7 839.0,183.4 839.1,190.6 839.2,182.5 839.3,193.0 839.4,209.8 839.6,213.5 839.7,185.6 839.8,184.4 839.9,209.4 840.0,200.2 840.2,189.0 840.3,205.1 840.4,203.4 840.5,177.6 840.6,191.1 840.8,191.2 840.9,187.1 841.0,190.0 841.1,194.4 841.3,189.5 841.4,198.6 841.5,170.1 841.6,226.6 841.7,169.4 841.9,198.1 842.0,170.1 842.1,173.4 842.2,172.4 842.3,149.5 842.5,202.2 842.6,197.0 842.7,193.8 842.8,182.6 842.9,192.7 843.1,175.0 843.2,197.4 843.3,180.0 843.4,227.9 843.5,180.2 843.7,185.4 843.8,142.0 843.9,176.5 844.0,193.3 844.1,175.0 844.3,189.1 844.4,193.1 844.5,196.1 844.6,182.4 844.7,203.2 844.9,194.0 845.0,155.5 845.1,193.1 845.2,180.3 845.4,198.4 845.5,205.0 845.6,186.4 845.7,180.7 845.8,192.3 846.0,205.9 846.1,187.9 846.2,202.4 846.3,202.1 846.4,175.5 846.6,188.1 846.7,178.4 846.8,154.1 846.9,177.6 847.0,198.6 847.2,166.5 847.3,204.0 847.4,188.1 847.5,172.3 847.6,176.8 847.8,175.7 847.9,188.6 848.0,201.7 848.1,175.0 848.2,189.8 848.4,176.1 848.5,171.5 848.6,186.1 848.7,197.6 848.8,165.4 849.0,206.0 849.1,176.4 849.2,176.0 849.3,188.0 849.5,192.3 849.6,195.5 849.7,175.5 849.8,189.8 849.9,206.4 850.1,180.8 850.2,200.2 850.3,191.2 850.4,209.2 850.5,193.8 850.7,188.2 850.8,191.0 850.9,185.3 851.0,192.6 851.1,183.4 851.3,166.7 851.4,194.2 851.5,182.5 851.6,180.9 851.7,191.0 851.9,193.5 852.0,186.6 852.1,180.1 852.2,196.8 852.3,185.2 852.5,213.9 852.6,185.9 852.7,187.1 852.8,192.8 852.9,187.0 853.1,190.1 853.2,174.3 853.3,150.0 853.4,176.1 853.6,195.1 853.7,189.5 853.8,177.0 853.9,180.4 854.0,192.2 854.2,151.7 854.3,181.1 854.4,186.3 854.5,176.6 854.6,191.5 854.8,177.9 854.9,188.9 855.0,203.2 855.1,188.0 855.2,189.5 855.4,182.7 855.5,187.1 855.6,194.0 855.7,163.3 855.8,186.1 856.0,194.3 856.1,190.0 856.2,196.0 856.3,189.4 856.4,184.0 856.6,197.8 856.7,186.3 856.8,186.7 856.9,210.0 857.0,191.5 857.2,218.4 857.3,185.4 857.4,201.5 857.5,209.3 857.7,191.5 857.8,177.6 857.9,209.4 858.0,189.3 858.1,210.8 858.3,186.1 858.4,205.6 858.5,179.6 858.6,203.4 858.7,175.0 858.9,211.5 859.0,196.8 859.1,188.6 859.2,171.7 859.3,178.9 859.5,182.7 859.6,189.6 859.7,192.9 859.8,202.8 859.9,190.9 860.1,196.7 860.2,170.0 860.3,198.1 860.4,183.0 860.5,183.3 860.7,194.4 860.8,198.1 860.9,202.7 861.0,144.0 861.1,185.6 861.3,162.7 861.4,205.9 861.5,190.8 861.6,200.5 861.8,183.8 861.9,172.8 862.0,183.5 862.1,183.0 862.2,177.2 862.4,210.9 862.5,182.8 862.6,181.9 862.7,193.5 862.8,196.9 863.0,187.2 863.1,187.3 863.2,198.1 863.3,190.3 863.4,200.3 863.6,199.3 863.7,177.5 863.8,180.7 863.9,187.1 864.0,186.9 864.2,182.5 864.3,190.1 864.4,191.8 864.5,192.5 864.6,178.7 864.8,183.8 864.9,160.3 865.0,197.5 865.1,170.8 865.2,181.6 865.4,187.9 865.5,199.5 865.6,181.6 865.7,193.4 865.9,177.8 866.0,182.7 866.1,175.7 866.2,193.5 866.3,180.1 866.5,191.9 866.6,181.8 866.7,183.3 866.8,193.3 866.9,170.4 867.1,176.9 867.2,152.2 867.3,188.7 867.4,181.4 867.5,201.4 867.7,178.5 867.8,181.6 867.9,194.2 868.0,195.1 868.1,201.8 868.3,198.4 868.4,178.7 868.5,175.2 868.6,195.2 868.7,179.9 868.9,188.8 869.0,184.3 869.1,184.6 869.2,198.2 869.3,192.6 869.5,210.4 869.6,162.5 869.7,174.9 869.8,203.0 869.9,195.2 870.1,183.6 870.2,182.9 870.3,199.3 870.4,179.9 870.6,196.6 870.7,179.2 870.8,193.8 870.9,163.4 871.0,194.6 871.2,180.9 871.3,184.2 871.4,191.1 871.5,176.2 871.6,164.7 871.8,193.1 871.9,186.7 872.0,180.2 872.1,166.5 872.2,169.0 872.4,200.2 872.5,202.8 872.6,194.4 872.7,184.0 872.8,172.8 873.0,191.9 873.1,187.7 873.2,185.2 873.3,203.2 873.4,180.6 873.6,178.4 873.7,200.0 873.8,188.7 873.9,181.9 874.0,178.0 874.2,189.0 874.3,186.9 874.4,196.9 874.5,166.1 874.7,157.9 874.8,172.0 874.9,173.4 875.0,190.0 875.1,200.9 875.3,177.7 875.4,196.6 875.5,189.9 875.6,179.2 875.7,197.6 875.9,189.8 876.0,179.5 876.1,167.6 876.2,181.7 876.3,174.6 876.5,189.5 876.6,181.9 876.7,195.8 876.8,179.6 876.9,191.7 877.1,175.2 877.2,204.1 877.3,200.7 877.4,167.7 877.5,195.7 877.7,194.4 877.8,180.2 877.9,182.5 878.0,196.4 878.1,196.2 878.3,194.8 878.4,185.2 878.5,192.1 878.6,174.5 878.8,170.5 878.9,187.7 879.0,200.8 879.1,194.8 879.2,185.9 879.4,196.3 879.5,188.3 879.6,195.3 879.7,177.8 879.8,189.4 880.0,203.6 880.1,180.3 880.2,195.3 880.3,184.7 880.4,179.0 880.6,172.1 880.7,159.6 880.8,189.5 880.9,165.3 881.0,190.4 881.2,166.2 881.3,180.1 881.4,186.7 881.5,159.5 881.6,175.5 881.8,179.6 881.9,183.5 882.0,184.9 882.1,193.1 882.2,178.6 882.4,212.2 882.5,179.5 882.6,174.6 882.7,187.5 882.9,194.1 883.0,188.7 883.1,206.0 883.2,186.8 883.3,191.4 883.5,200.9 883.6,182.8 883.7,155.0 883.8,193.4 883.9,182.4 884.1,188.1 884.2,186.5 884.3,189.2 884.4,180.5 884.5,212.9 884.7,199.0 884.8,174.8 884.9,194.5 885.0,198.9 885.1,167.0 885.3,176.4 885.4,175.9 885.5,183.9 885.6,193.9 885.7,175.4 885.9,197.2 886.0,185.5 886.1,195.3 886.2,209.3 886.3,178.9 886.5,179.0 886.6,191.7 886.7,189.7 886.8,173.4 887.0,184.5 887.1,181.4 887.2,164.8 887.3,185.4 887.4,196.5 887.6,171.7 887.7,182.2 887.8,200.5 887.9,201.4 888.0,184.5 888.2,187.7 888.3,164.3 888.4,178.9 888.5,180.7 888.6,190.8 888.8,188.3 888.9,152.9 889.0,190.1 889.1,179.2 889.2,214.1 889.4,178.6 889.5,153.3 889.6,183.7 889.7,200.8 889.8,195.4 890.0,192.1 890.1,179.3 890.2,186.8 890.3,172.4 890.4,194.4 890.6,188.5 890.7,196.5 890.8,165.9 890.9,179.3 891.1,184.6 891.2,189.3 891.3,185.9 891.4,178.4 891.5,175.6 891.7,184.3 891.8,189.4 891.9,196.0 892.0,188.8 892.1,204.2 892.3,197.1 892.4,165.8 892.5,194.1 892.6,180.1 892.7,192.9 892.9,197.8 893.0,174.2 893.1,201.2 893.2,197.1 893.3,200.5 893.5,192.0 893.6,194.7 893.7,191.9 893.8,192.2 893.9,207.7 894.1,191.0 894.2,194.4 894.3,181.0 894.4,197.5 894.5,183.8 894.7,194.9 894.8,194.9 894.9,187.7 895.0,201.5 895.2,188.9 895.3,182.4 895.4,164.1 895.5,190.3 895.6,165.3 895.8,169.1 895.9,173.7 896.0,175.8 896.1,187.7 896.2,196.6 896.4,173.3 896.5,179.5 896.6,187.3 896.7,198.2 896.8,188.1 897.0,202.1 897.1,194.0 897.2,196.5 897.3,188.6 897.4,174.3 897.6,103.0 897.7,180.5 897.8,174.9 897.9,207.4 898.0,186.9 898.2,179.9 898.3,203.7 898.4,205.6 898.5,181.1 898.6,189.8 898.8,174.0 898.9,199.6 899.0,200.3 899.1,171.9 899.3,171.8 899.4,192.6 899.5,179.6 899.6,178.1 899.7,200.9 899.9,194.9 900.0,192.6 900.1,189.5 900.2,197.8 900.3,184.7 900.5,179.0 900.6,197.2 900.7,173.2 900.8,208.1 900.9,178.0 901.1,194.1 901.2,175.3 901.3,193.4 901.4,187.6 901.5,187.6 901.7,189.6 901.8,184.2 901.9,183.7 902.0,192.4 902.1,175.7 902.3,178.6 902.4,169.1 902.5,192.2 902.6,172.6 902.7,172.1 902.9,195.4 903.0,193.1 903.1,202.4 903.2,167.5 903.3,198.3 903.5,197.4 903.6,198.6 903.7,185.2 903.8,194.2 904.0,141.0 904.1,187.7 904.2,171.8 904.3,190.9 904.4,177.1 904.6,197.5 904.7,175.3 904.8,190.6 904.9,185.9 905.0,186.4 905.2,193.2 905.3,208.0 905.4,200.2 905.5,166.0 905.6,166.6 905.8,183.4 905.9,176.6 906.0,186.5 906.1,208.0 906.2,182.6 906.4,174.5 906.5,172.2 906.6,191.7 906.7,176.4 906.8,189.1 907.0,181.7 907.1,185.5 907.2,190.9 907.3,180.7 907.4,198.3 907.6,198.0 907.7,189.1 907.8,192.5 907.9,191.6 908.1,174.0 908.2,195.6 908.3,173.3 908.4,196.6 908.5,212.4 908.7,187.6 908.8,194.8 908.9,183.9 909.0,189.2 909.1,203.4 909.3,158.7 909.4,188.5 909.5,175.7 909.6,201.1 909.7,183.1 909.9,185.8 910.0,180.9 910.1,192.7 910.2,177.8 910.3,182.8 910.5,181.7 910.6,194.7 910.7,155.1 910.8,203.5 910.9,190.3 911.1,190.7 911.2,187.1 911.3,193.6 911.4,189.7 911.5,188.4 911.7,197.9 911.8,194.6 911.9,208.3 912.0,177.7 912.2,195.7 912.3,180.9 912.4,187.7 912.5,183.2 912.6,205.8 912.8,188.6 912.9,198.0 913.0,188.4 913.1,187.3 913.2,191.2 913.4,179.4 913.5,184.6 913.6,189.3 913.7,177.7 913.8,161.6 914.0,181.9 914.1,209.8 914.2,188.2 914.3,173.8 914.4,197.8 914.6,195.5 914.7,190.8 914.8,167.6 914.9,157.9 915.0,141.0 915.2,202.0 915.3,158.5 915.4,191.5 915.5,180.5 915.6,208.4 915.8,162.3 915.9,187.3 916.0,185.9 916.1,193.6 916.3,185.0 916.4,185.6 916.5,155.9 916.6,174.5 916.7,190.4 916.9,188.4 917.0,184.5 917.1,176.6 917.2,192.2 917.3,180.0 917.5,213.7 917.6,180.6 917.7,176.0 917.8,173.5 917.9,181.8 918.1,208.3 918.2,195.9 918.3,186.7 918.4,193.0 918.5,184.8 918.7,204.2 918.8,190.8 918.9,193.6 919.0,179.8 919.1,188.2 919.3,195.7 919.4,192.3 919.5,181.6 919.6,183.3 919.7,179.5 919.9,180.2 920.0,198.4 920.1,170.1 920.2,171.7 920.4,180.6 920.5,184.8 920.6,175.0 920.7,191.3 920.8,194.5 921.0,194.1 921.1,176.4 921.2,179.1 921.3,196.2 921.4,170.1 921.6,166.8 921.7,197.6 921.8,179.3 921.9,193.1 922.0,165.6 922.2,180.8 922.3,197.5 922.4,183.5 922.5,191.2 922.6,193.1 922.8,182.3 922.9,188.4 923.0,188.3 923.1,198.1 923.2,207.3 923.4,180.4 923.5,187.4 923.6,179.1 923.7,194.7 923.8,179.6 924.0,195.3 924.1,180.3 924.2,194.9 924.3,194.6 924.5,179.8 924.6,175.4 924.7,185.6 924.8,186.6 924.9,151.7 925.1,198.1 925.2,184.1 925.3,210.8 925.4,193.2 925.5,200.5 925.7,196.6 925.8,212.4 925.9,172.6 926.0,162.1 926.1,186.2 926.3,199.3 926.4,199.2 926.5,191.1 926.6,198.4 926.7,158.9 926.9,153.8 927.0,180.1 927.1,168.4 927.2,190.3 927.3,169.8 927.5,186.5 927.6,197.4 927.7,204.2 927.8,187.1 927.9,193.0 928.1,187.0 928.2,211.3 928.3,187.0 928.4,194.8 928.6,180.5 928.7,184.2 928.8,166.2 928.9,191.0 929.0,185.8 929.2,203.1 929.3,180.0 929.4,191.5 929.5,191.6 929.6,186.0 929.8,201.0 929.9,193.0 930.0,192.4 930.1,165.3 930.2,171.6 930.4,175.1 930.5,155.8 930.6,173.7 930.7,178.3 930.8,173.2 931.0,191.8 931.1,173.3 931.2,167.9 931.3,196.4 931.4,206.2 931.6,165.0 931.7,180.0 931.8,192.6 931.9,175.6 932.0,193.0 932.2,193.8 932.3,201.3 932.4,199.8 932.5,175.4 932.6,198.8 932.8,185.5 932.9,181.0 933.0,196.6 933.1,161.3 933.3,187.0 933.4,174.6 933.5,184.8 933.6,204.9 933.7,212.6 933.9,203.1 934.0,177.9 934.1,155.5 934.2,182.0 934.3,175.6 934.5,158.2 934.6,187.0 934.7,185.6 934.8,200.0 934.9,174.7 935.1,171.1 935.2,198.0 935.3,187.3 935.4,188.6 935.5,157.5 935.7,158.8 935.8,194.9 935.9,205.2 936.0,193.4 936.1,194.1 936.3,200.9 936.4,184.9 936.5,137.8 936.6,184.4 936.7,187.2 936.9,195.2 937.0,190.8 937.1,186.8 937.2,186.2 937.4,211.4 937.5,192.3 937.6,175.9 937.7,197.4 937.8,179.8 938.0,179.1 938.1,188.6 938.2,199.1 938.3,183.5 938.4,193.3 938.6,184.7 938.7,186.7 938.8,194.5 938.9,199.3 939.0,180.7 939.2,190.9 939.3,178.0 939.4,177.0 939.5,197.5 939.6,197.4 939.8,181.2 939.9,191.4 940.0,196.4 940.1,205.9 940.2,178.9 940.4,171.3 940.5,174.2 940.6,187.2 940.7,194.7 940.8,193.6 941.0,179.6 941.1,188.5 941.2,191.7 941.3,213.9 941.5,186.9 941.6,185.1 941.7,196.4 941.8,184.1 941.9,185.6 942.1,186.6 942.2,212.4 942.3,159.7 942.4,190.6 942.5,192.4 942.7,189.3 942.8,197.3 942.9,186.1 943.0,190.4 943.1,136.2 943.3,178.7 943.4,185.3 943.5,179.3 943.6,201.0 943.7,204.8 943.9,184.4 944.0,178.4 944.1,198.1 944.2,196.8 944.3,148.5 944.5,198.6 944.6,175.3 944.7,185.3 944.8,200.7 944.9,170.5 945.1,173.2 945.2,169.8 945.3,177.5 945.4,175.9 945.6,196.6 945.7,211.4 945.8,183.1 945.9,192.8 946.0,167.9 946.2,182.2 946.3,180.7 946.4,174.5 946.5,203.8 946.6,192.3 946.8,177.9 946.9,184.5 947.0,182.3 947.1,189.1 947.2,194.9 947.4,193.5 947.5,180.1 947.6,168.9 947.7,209.1 947.8,182.2 948.0,183.5 948.1,181.5 948.2,206.4 948.3,190.2 948.4,181.1 948.6,190.5 948.7,182.3 948.8,194.4 948.9,200.2 949.0,185.5 949.2,210.6 949.3,187.7 949.4,176.5 949.5,196.9 949.7,193.8 949.8,177.8 949.9,198.4 950.0,183.5 950.1,174.2 950.3,190.2 950.4,219.5 950.5,198.7 950.6,187.6 950.7,182.7 950.9,180.3 951.0,164.6 951.1,190.1 951.2,198.9 951.3,170.8 951.5,211.1 951.6,193.0 951.7,181.4 951.8,177.5 951.9,186.5 952.1,193.5 952.2,179.2 952.3,192.1 952.4,157.6 952.5,181.9 952.7,187.5 952.8,194.3 952.9,160.0 953.0,184.2 953.1,191.4 953.3,169.4 953.4,168.1 953.5,185.8 953.6,182.2 953.8,179.2 953.9,188.4 954.0,182.3 954.1,179.9 954.2,195.7 954.4,201.6 954.5,164.4 954.6,194.3 954.7,202.9 954.8,184.6 955.0,152.1 955.1,206.3 955.2,206.0 955.3,199.7 955.4,197.1 955.6,191.3 955.7,172.5 955.8,159.3 955.9,201.8 956.0,188.0 956.2,172.7 956.3,191.8 956.4,167.9 956.5,180.9 956.6,200.0 956.8,179.5 956.9,190.6 957.0,195.2 957.1,195.7 957.2,176.3 957.4,185.4 957.5,150.2 957.6,189.9 957.7,185.4 957.9,202.8 958.0,191.8 958.1,209.2 958.2,186.6 958.3,190.7 958.5,171.7 958.6,199.7 958.7,175.5 958.8,193.1 958.9,203.3 959.1,186.4 959.2,191.8 959.3,202.1 959.4,184.0 959.5,191.8 959.7,156.7 959.8,186.4 959.9,183.3 960.0,194.7 960.1,205.2 960.3,197.8 960.4,218.7 960.5,177.7 960.6,181.7 960.7,185.7 960.9,179.7 961.0,164.7 961.1,188.0 961.2,182.3 961.3,185.3 961.5,193.7 961.6,174.1 961.7,183.1 961.8,195.3 962.0,185.9 962.1,185.7 962.2,203.9 962.3,188.1 962.4,192.0 962.6,229.5 962.7,201.3 962.8,188.2 962.9,195.4 963.0,183.2 963.2,180.1 963.3,182.7 963.4,184.8 963.5,188.8 963.6,190.7 963.8,193.0 963.9,188.6 964.0,177.6 964.1,178.9 964.2,199.3 964.4,186.4 964.5,195.1 964.6,192.5 964.7,181.2 964.8,189.3 965.0,198.9 965.1,186.4 965.2,179.5 965.3,194.7 965.4,164.5 965.6,180.9 965.7,164.5 965.8,200.6 965.9,206.8 966.0,178.9 966.2,197.4 966.3,197.6 966.4,177.5 966.5,178.9 966.7,202.9 966.8,161.6 966.9,181.2 967.0,180.1 967.1,184.8 967.3,191.5 967.4,188.1 967.5,173.6 967.6,186.4 967.7,185.2 967.9,190.2 968.0,194.0 968.1,186.8 968.2,178.0 968.3,175.6 968.5,186.9 968.6,188.5 968.7,182.9 968.8,169.5 968.9,186.8 969.1,197.1 969.2,184.5 969.3,189.1 969.4,192.2 969.5,181.5 969.7,184.8 969.8,185.7 969.9,189.8 970.0,192.8 970.1,191.5 970.3,192.2 970.4,185.2 970.5,178.1 970.6,183.8 970.8,187.4 970.9,167.2 971.0,185.0 971.1,190.6 971.2,183.5 971.4,180.5 971.5,192.3 971.6,191.8 971.7,169.7 971.8,179.5 972.0,187.6 972.1,185.3 972.2,189.8 972.3,185.4 972.4,199.2 972.6,181.7 972.7,181.9 972.8,192.1 972.9,160.7 973.0,179.0 973.2,165.7 973.3,164.4 973.4,185.6 973.5,181.9 973.6,182.6 973.8,161.0 973.9,193.2 974.0,205.2 974.1,164.4 974.2,198.4 974.4,191.4 974.5,204.6 974.6,176.1 974.7,188.9 974.9,193.7 975.0,201.6 975.1,187.7 975.2,169.3 975.3,184.7 975.5,178.2 975.6,195.6 975.7,176.5 975.8,173.4 975.9,191.2 976.1,183.8 976.2,191.1 976.3,173.5 976.4,171.8 976.5,198.5 976.7,189.4 976.8,201.6 976.9,185.1 977.0,184.5 977.1,188.5 977.3,205.2 977.4,178.7 977.5,184.7 977.6,180.3 977.7,179.2 977.9,188.9 978.0,187.7 978.1,174.5 978.2,183.5 978.3,194.1 978.5,173.2 978.6,188.9 978.7,187.9 978.8,184.2 979.0,174.5 979.1,181.7 979.2,177.7 979.3,184.0 979.4,195.9 979.6,182.6 979.7,177.6 979.8,184.4 979.9,188.3 980.0,178.8 980.2,181.5 980.3,187.0 980.4,197.2 980.5,195.1 980.6,189.4 980.8,186.2 980.9,190.6 981.0,177.2 981.1,212.4 981.2,189.2 981.4,178.6 981.5,189.8 981.6,190.8 981.7,189.6 981.8,197.5 982.0,192.7 982.1,197.4 982.2,200.7 982.3,147.3 982.4,177.2 982.6,167.6 982.7,194.9 982.8,188.6 982.9,189.4 983.1,196.4 983.2,190.8 983.3,187.5 983.4,190.1 983.5,189.3 983.7,185.7 983.8,200.0 983.9,175.3 984.0,179.9 984.1,197.0 984.3,183.7 984.4,187.9 984.5,191.1 984.6,195.6 984.7,186.6 984.9,185.4 985.0,182.3 985.1,176.6 985.2,195.8 985.3,166.3 985.5,161.7 985.6,207.0 985.7,195.6 985.8,176.4 985.9,183.4 986.1,179.1 986.2,182.8 986.3,188.8 986.4,194.0 986.5,181.1 986.7,174.4 986.8,200.8 986.9,171.0 987.0,198.3 987.2,186.9 987.3,186.2 987.4,173.8 987.5,178.8 987.6,196.2 987.8,193.4 987.9,186.4 988.0,187.3 988.1,179.5 988.2,185.6 988.4,248.5 988.5,185.2 988.6,183.4 988.7,163.6 988.8,178.5 989.0,182.3 989.1,190.1 989.2,193.3 989.3,179.0 989.4,195.9 989.6,188.9 989.7,163.3 989.8,194.0 989.9,175.7 990.0,179.6 990.2,177.8 990.3,204.3 990.4,179.3 990.5,175.1 990.6,193.5 990.8,178.9 990.9,193.7 991.0,186.1 991.1,181.9 991.3,174.3 991.4,179.0 991.5,188.8 991.6,186.0 991.7,184.2 991.9,155.7 992.0,183.3 992.1,187.2 992.2,185.0 992.3,178.6 992.5,170.9 992.6,171.9 992.7,182.4 992.8,153.8 992.9,192.0 993.1,207.2 993.2,183.0 993.3,184.3 993.4,191.6 993.5,195.4 993.7,201.2 993.8,186.4 993.9,188.3 994.0,199.4 994.1,179.3 994.3,183.1 994.4,214.3 994.5,182.6 994.6,194.0 994.7,187.8 994.9,195.4 995.0,196.5 995.1,194.3 995.2,195.3 995.3,192.5 995.5,196.3 995.6,199.0 995.7,178.7 995.8,178.4 996.0,194.8 996.1,185.8 996.2,172.3 996.3,183.4 996.4,189.8 996.6,199.7 996.7,175.0 996.8,170.7 996.9,184.2 997.0,188.7 997.2,192.8 997.3,187.2 997.4,170.8 997.5,194.6 997.6,195.9 997.8,178.1 997.9,175.4 998.0,197.7 998.1,170.3 998.2,182.9 998.4,189.9 998.5,183.6 998.6,192.0 998.7,187.1 998.8,185.2 999.0,140.0 999.1,182.6 999.2,201.3 999.3,187.0 999.4,191.7 999.6,166.9 999.7,219.2 999.8,184.5 999.9,205.1 1000.1,186.6 1000.2,196.8 1000.3,191.0 1000.4,199.9 1000.5,190.4 1000.7,187.4 1000.8,179.1 1000.9,178.3 1001.0,175.5 1001.1,177.7 1001.3,197.7 1001.4,181.1 1001.5,206.0 1001.6,209.1 1001.7,184.0 1001.9,194.8 1002.0,207.8 1002.1,182.8 1002.2,199.0 1002.3,184.8 1002.5,168.9 1002.6,184.9 1002.7,195.4 1002.8,185.0 1002.9,184.5 1003.1,182.2 1003.2,181.9 1003.3,168.4 1003.4,171.3 1003.5,203.1 1003.7,165.9 1003.8,190.3 1003.9,189.4 1004.0,161.1 1004.2,182.2 1004.3,199.3 1004.4,204.7 1004.5,179.2 1004.6,195.5 1004.8,198.3 1004.9,170.2 1005.0,182.3 1005.1,185.1 1005.2,194.3 1005.4,172.5 1005.5,203.6 1005.6,205.1 1005.7,188.9 1005.8,186.3 1006.0,167.2 1006.1,203.2 1006.2,190.4 1006.3,188.3 1006.4,187.7 1006.6,186.9 1006.7,184.8 1006.8,170.4 1006.9,168.4 1007.0,188.1 1007.2,188.8 1007.3,156.2 1007.4,207.4 1007.5,180.3 1007.6,184.2 1007.8,171.0 1007.9,188.3 1008.0,199.8 1008.1,199.5 1008.3,178.1 1008.4,177.6 1008.5,192.2 1008.6,180.7 1008.7,195.7 1008.9,196.1 1009.0,172.5 1009.1,194.7 1009.2,190.2 1009.3,198.7 1009.5,171.2 1009.6,162.2 1009.7,182.4 1009.8,196.7 1009.9,159.8 1010.1,231.0 1010.2,184.2 1010.3,188.6 1010.4,192.6 1010.5,179.6 1010.7,166.3 1010.8,179.1 1010.9,187.8 1011.0,193.9 1011.1,179.0 1011.3,170.4 1011.4,194.7 1011.5,188.8 1011.6,192.6 1011.7,185.7 1011.9,190.1 1012.0,173.8 1012.1,177.0 1012.2,180.3 1012.4,188.3 1012.5,186.4 1012.6,168.9 1012.7,192.4 1012.8,187.1 1013.0,184.8 1013.1,198.2 1013.2,178.2 1013.3,172.6 1013.4,204.0 1013.6,181.0 1013.7,184.2 1013.8,177.1 1013.9,186.4 1014.0,177.7 1014.2,199.3 1014.3,196.2 1014.4,189.6 1014.5,184.4 1014.6,190.2 1014.8,174.1 1014.9,179.5 1015.0,183.4 1015.1,175.9 1015.2,185.3 1015.4,188.3 1015.5,177.1 1015.6,185.4 1015.7,178.8 1015.8,216.5 1016.0,167.9 1016.1,184.4 1016.2,169.5 1016.3,205.2 1016.5,188.8 1016.6,205.4 1016.7,180.3 1016.8,181.7 1016.9,172.3 1017.1,142.5 1017.2,197.2 1017.3,193.3 1017.4,199.2 1017.5,193.2 1017.7,185.9 1017.8,186.6 1017.9,193.5 1018.0,191.3 1018.1,192.8 1018.3,186.7 1018.4,202.8 1018.5,192.2 1018.6,191.8 1018.7,183.2 1018.9,188.9 1019.0,197.3 1019.1,182.5 1019.2,187.6 1019.3,160.4 1019.5,163.3 1019.6,164.3 1019.7,185.8 1019.8,155.7 1019.9,154.5 1020.1,196.4 1020.2,169.3 1020.3,179.3 1020.4,180.7 1020.6,188.2 1020.7,181.1 1020.8,179.8 1020.9,173.9 1021.0,180.9 1021.2,173.0 1021.3,192.4 1021.4,169.4 1021.5,192.8 1021.6,196.3 1021.8,190.6 1021.9,214.7 1022.0,171.2 1022.1,212.0 1022.2,185.1 1022.4,175.6 1022.5,181.1 1022.6,197.2 1022.7,186.0 1022.8,175.7 1023.0,189.1 1023.1,178.5 1023.2,167.1 1023.3,175.7 1023.4,192.2 1023.6,165.1 1023.7,195.5 1023.8,182.9 1023.9,193.7 1024.0,174.2 1024.2,193.4 1024.3,191.8 1024.4,184.9 1024.5,191.7 1024.6,178.9 1024.8,189.1 1024.9,190.3 1025.0,169.7 1025.1,190.3 1025.3,186.1 1025.4,180.0 1025.5,180.4 1025.6,196.5 1025.7,175.5 1025.9,171.7 1026.0,195.8 1026.1,188.7 1026.2,187.9 1026.3,178.7 1026.5,189.7 1026.6,188.4 1026.7,185.1 1026.8,205.5 1026.9,203.0 1027.1,161.2 1027.2,187.8 1027.3,179.8 1027.4,188.0 1027.5,177.8 1027.7,199.4 1027.8,185.1 1027.9,174.8 1028.0,201.5 1028.1,205.4 1028.3,193.8 1028.4,170.4 1028.5,196.8 1028.6,154.7 1028.7,183.0 1028.9,189.4 1029.0,193.2 1029.1,195.4 1029.2,193.2 1029.4,186.7 1029.5,200.0 1029.6,182.3 1029.7,176.2 1029.8,194.6 1030.0,173.4 1030.1,174.5 1030.2,175.8 1030.3,201.4 1030.4,195.2 1030.6,194.4 1030.7,196.7 1030.8,187.2 1030.9,193.7 1031.0,184.6 1031.2,202.8 1031.3,183.9 1031.4,184.7 1031.5,188.8 1031.6,200.7 1031.8,180.4 1031.9,169.1 1032.0,189.0 1032.1,190.4 1032.2,199.2 1032.4,181.6 1032.5,176.6 1032.6,191.7 1032.7,171.7 1032.8,182.5 1033.0,191.9 1033.1,204.8 1033.2,193.9 1033.3,181.5 1033.5,185.0 1033.6,200.1 1033.7,200.7 1033.8,198.4 1033.9,190.1 1034.1,179.3 1034.2,191.8 1034.3,188.7 1034.4,179.1 1034.5,206.3 1034.7,193.8 1034.8,190.3 1034.9,183.5 1035.0,184.5 1035.1,184.0 1035.3,181.2 1035.4,189.4 1035.5,171.8 1035.6,185.0 1035.7,178.9 1035.9,182.6 1036.0,187.0 1036.1,196.4 1036.2,180.2 1036.3,179.7 1036.5,176.9 1036.6,183.6 1036.7,188.2 1036.8,191.3 1036.9,181.9 1037.1,177.6 1037.2,188.2 1037.3,189.4 1037.4,185.4 1037.6,171.4 1037.7,184.2 1037.8,190.2 1037.9,212.7 1038.0,209.1 1038.2,179.8 1038.3,178.1 1038.4,182.9 1038.5,172.2 1038.6,183.6 1038.8,176.3 1038.9,178.1 1039.0,187.4 1039.1,188.6 1039.2,184.6 1039.4,188.0 1039.5,190.6 1039.6,201.7 1039.7,188.5 1039.8,197.1 1040.0,169.6 1040.1,191.4 1040.2,180.4 1040.3,162.5 1040.4,199.4 1040.6,199.0 1040.7,177.1 1040.8,197.8 1040.9,175.7 1041.0,183.7 1041.2,191.6 1041.3,194.8 1041.4,185.9 1041.5,191.5 1041.7,176.5 1041.8,185.9 1041.9,199.3 1042.0,193.6 1042.1,190.8 1042.3,175.8 1042.4,189.2 1042.5,165.7 1042.6,183.0 1042.7,178.7 1042.9,193.7 1043.0,184.3 1043.1,185.8 1043.2,202.5 1043.3,196.3 1043.5,185.2 1043.6,164.7 1043.7,220.9 1043.8,205.4 1043.9,192.1 1044.1,202.7 1044.2,185.6 1044.3,174.2 1044.4,189.0 1044.5,184.0 1044.7,179.5 1044.8,175.0 1044.9,193.9 1045.0,187.0 1045.1,182.3 1045.3,179.3 1045.4,214.8 1045.5,180.2 1045.6,172.7 1045.8,177.1 1045.9,177.9 1046.0,185.2 1046.1,192.8 1046.2,203.3 1046.4,183.2 1046.5,191.7 1046.6,191.9 1046.7,177.8 1046.8,200.9 1047.0,166.2 1047.1,178.4 1047.2,180.5 1047.3,188.8 1047.4,215.7 1047.6,197.3 1047.7,182.9 1047.8,198.9 1047.9,176.2 1048.0,193.7 1048.2,186.0 1048.3,196.4 1048.4,183.1 1048.5,190.5 1048.6,202.3 1048.8,197.4 1048.9,195.5 1049.0,172.2 1049.1,192.9 1049.2,183.3 1049.4,175.7 1049.5,181.6 1049.6,190.6 1049.7,195.3 1049.9,187.2 1050.0,188.9 1050.1,185.9 1050.2,179.8 1050.3,182.1 1050.5,178.1 1050.6,179.1 1050.7,182.9 1050.8,197.7 1050.9,184.9 1051.1,180.4 1051.2,188.9 1051.3,192.2 1051.4,178.1 1051.5,198.6 1051.7,179.6 1051.8,185.6 1051.9,190.6 1052.0,183.2 1052.1,178.4 1052.3,192.9 1052.4,202.2 1052.5,191.6 1052.6,185.3 1052.7,201.8 1052.9,182.2 1053.0,171.6 1053.1,190.6 1053.2,197.5 1053.3,185.9 1053.5,201.6 1053.6,156.8 1053.7,203.2 1053.8,187.2 1054.0,194.1 1054.1,195.6 1054.2,179.3 1054.3,173.1 1054.4,195.2 1054.6,187.3 1054.7,197.3 1054.8,199.1 1054.9,180.3 1055.0,181.8 1055.2,190.0 1055.3,186.2 1055.4,200.2 1055.5,201.1 1055.6,187.8 1055.8,208.2 1055.9,172.0 1056.0,183.3 1056.1,202.0 1056.2,196.9 1056.4,203.9 1056.5,192.1 1056.6,178.4 1056.7,184.7 1056.8,170.7 1057.0,193.6 1057.1,198.8 1057.2,181.8 1057.3,176.7 1057.4,187.3 1057.6,195.3 1057.7,180.4 1057.8,201.8 1057.9,167.0 1058.0,200.8 1058.2,186.4 1058.3,168.0 1058.4,192.6 1058.5,210.0 1058.7,192.7 1058.8,194.7 1058.9,195.4 1059.0,174.0 1059.1,178.6 1059.3,187.8 1059.4,195.6 1059.5,176.7 1059.6,185.7 1059.7,197.8 1059.9,190.3 1060.0,172.3 1060.1,199.9 1060.2,159.2 1060.3,185.4 1060.5,190.7 1060.6,160.2 1060.7,206.9 1060.8,187.7 1060.9,193.9 1061.1,170.7 1061.2,187.6 1061.3,203.5 1061.4,177.3 1061.5,201.1 1061.7,176.7 1061.8,157.3 1061.9,184.9 1062.0,173.8 1062.1,193.6 1062.3,202.2 1062.4,185.0 1062.5,174.0 1062.6,193.5 1062.8,191.6 1062.9,177.7 1063.0,176.7 1063.1,189.5 1063.2,190.9 1063.4,180.0 1063.5,178.4 1063.6,192.8 1063.7,158.2 1063.8,163.1 1064.0,191.3 1064.1,188.9 1064.2,174.4 1064.3,187.8 1064.4,201.2 1064.6,183.9 1064.7,193.4 1064.8,179.0 1064.9,183.9 1065.0,190.4 1065.2,199.9 1065.3,176.0 1065.4,205.8 1065.5,183.7 1065.6,166.8 1065.8,185.7 1065.9,184.5 1066.0,183.1 1066.1,188.2 1066.2,171.5 1066.4,187.4 1066.5,185.5 1066.6,207.1 1066.7,174.6 1066.9,189.2 1067.0,207.0 1067.1,183.2 1067.2,202.3 1067.3,166.3 1067.5,182.0 1067.6,183.4 1067.7,213.7 1067.8,174.6 1067.9,197.6 1068.1,207.1 1068.2,189.8 1068.3,190.7 1068.4,195.9 1068.5,181.6 1068.7,185.8 1068.8,193.6 1068.9,226.9 1069.0,181.9 1069.1,200.9 1069.3,187.6 1069.4,196.4 1069.5,183.9 1069.6,188.2 1069.7,191.9 1069.9,198.6 1070.0,181.5 1070.1,179.6 1070.2,197.7 1070.3,152.8 1070.5,178.0 1070.6,171.0 1070.7,203.0 1070.8,183.3 1071.0,203.8 1071.1,208.0 1071.2,212.9 1071.3,177.8 1071.4,202.6 1071.6,186.7 1071.7,170.1 1071.8,183.4 1071.9,185.4 1072.0,179.0 1072.2,204.8 1072.3,179.1 1072.4,183.0 1072.5,203.0 1072.6,171.6 1072.8,176.0 1072.9,173.9 1073.0,190.0 1073.1,169.9 1073.2,195.2 1073.4,187.0 1073.5,179.3 1073.6,182.6 1073.7,198.8 1073.8,179.8 1074.0,203.9 1074.1,186.4 1074.2,184.3 1074.3,183.2 1074.4,196.5 1074.6,188.3 1074.7,178.6 1074.8,191.5 1074.9,194.3 1075.1,175.7 1075.2,189.1 1075.3,180.0 1075.4,178.2 1075.5,157.2 1075.7,196.7 1075.8,190.5 1075.9,182.9 1076.0,178.8 1076.1,177.5 1076.3,179.5 1076.4,170.5 1076.5,188.1 1076.6,184.1 1076.7,206.4 1076.9,194.9 1077.0,192.2 1077.1,187.0 1077.2,194.9 1077.3,190.4 1077.5,187.2 1077.6,200.9 1077.7,182.1 1077.8,189.8 1077.9,181.9 1078.1,191.7 1078.2,183.4 1078.3,183.6 1078.4,214.1 1078.5,179.4 1078.7,174.2 1078.8,171.3 1078.9,194.6 1079.0,213.9 1079.2,192.4 1079.3,175.1 1079.4,163.0 1079.5,199.3 1079.6,176.1 1079.8,199.2 1079.9,174.8 1080.0,192.5 1080.1,196.8 1080.2,178.1 1080.4,170.5 1080.5,152.2 1080.6,179.6 1080.7,182.6 1080.8,201.2 1081.0,196.0 1081.1,186.2 1081.2,170.0 1081.3,181.7 1081.4,186.7 1081.6,187.0 1081.7,189.9 1081.8,188.2 1081.9,190.9 1082.0,198.6 1082.2,189.1 1082.3,188.1 1082.4,172.8 1082.5,193.0 1082.6,189.6 1082.8,179.8 1082.9,191.2 1083.0,180.7 1083.1,197.2 1083.3,195.5 1083.4,177.7 1083.5,199.6 1083.6,187.2 1083.7,184.0 1083.9,165.9 1084.0,161.0 1084.1,190.3 1084.2,188.2 1084.3,199.4 1084.5,157.1 1084.6,193.7 1084.7,185.4 1084.8,190.4 1084.9,182.1 1085.1,190.4 1085.2,179.5 1085.3,189.3 1085.4,164.8 1085.5,197.0 1085.7,203.1 1085.8,194.4 1085.9,168.7 1086.0,195.2 1086.1,167.2 1086.3,203.5 1086.4,178.3 1086.5,161.6 1086.6,203.9 1086.7,178.7 1086.9,185.2 1087.0,179.5 1087.1,197.4 1087.2,198.1 1087.3,185.3 1087.5,181.9 1087.6,177.8 1087.7,196.0 1087.8,186.8 1088.0,194.6 1088.1,201.4 1088.2,186.4 1088.3,193.7 1088.4,169.6 1088.6,185.9 1088.7,189.3 1088.8,183.2 1088.9,174.0 1089.0,180.3 1089.2,194.0 1089.3,183.7 1089.4,176.6 1089.5,189.4 1089.6,188.9 1089.8,181.1 1089.9,195.4 1090.0,188.8 1090.1,195.2 1090.2,195.6 1090.4,181.7 1090.5,188.0 1090.6,189.8 1090.7,172.0 1090.8,192.9 1091.0,187.0 1091.1,209.6 1091.2,171.4 1091.3,191.9 1091.4,175.1 1091.6,187.8 1091.7,201.6 1091.8,178.8 1091.9,194.2 1092.1,177.9 1092.2,186.6 1092.3,174.0 1092.4,199.7 1092.5,192.6 1092.7,184.0 1092.8,154.4 1092.9,177.7 1093.0,180.2 1093.1,185.8 1093.3,169.4 1093.4,188.8 1093.5,185.5 1093.6,193.3 1093.7,189.4 1093.9,176.9 1094.0,181.3 1094.1,193.8 1094.2,181.0 1094.3,183.6 1094.5,191.4 1094.6,185.8 1094.7,207.1 1094.8,200.0 1094.9,179.0 1095.1,197.9 1095.2,201.3 1095.3,169.7 1095.4,188.3 1095.5,214.7 1095.7,174.7 1095.8,188.4 1095.9,169.1 1096.0,203.5 1096.2,149.2 1096.3,188.5 1096.4,195.4 1096.5,190.2 1096.6,200.9 1096.8,208.9 1096.9,184.2 1097.0,231.9 1097.1,165.6 1097.2,204.0 1097.4,178.5 1097.5,190.9 1097.6,212.0 1097.7,160.9 1097.8,190.5 1098.0,169.6 1098.1,181.2 1098.2,238.8 1098.3,195.7 1098.4,224.4 1098.6,178.1 1098.7,167.9 1098.8,205.7 1098.9,177.4 1099.0,180.7 1099.2,151.5 1099.3,186.8 1099.4,108.5 1099.5,204.0 1099.6,153.6 1099.8,151.6 1099.9,250.1 1100.0,243.2 1100.1,213.9 1100.3,113.5 1100.4,108.5 1100.5,169.0 1100.6,241.3 1100.7,171.3 1100.9,182.0 1101.0,183.1 1101.1,166.5 1101.2,189.4 1101.3,213.5 1101.5,190.9 1101.6,225.4 1101.7,308.5 1101.8,185.7 1101.9,157.3 1102.1,198.0 1102.2,202.9 1102.3,114.9 1102.4,266.5 1102.5,113.5 1102.7,131.4 1102.8,246.3 1102.9,167.8 1103.0,164.1 1103.1,136.9 1103.3,123.3 1103.4,266.5 1103.5,136.7 1103.6,175.3 1103.7,197.4 1103.9,219.8 1104.0,126.5 1104.1,191.9 1104.2,192.2 1104.4,218.8 1104.5,158.6 1104.6,190.6 1104.7,227.0 1104.8,177.9 1105.0,257.7 1105.1,166.7 1105.2,192.9 1105.3,147.4 1105.4,176.3 1105.6,192.0 1105.7,160.5 1105.8,209.0 1105.9,183.8 1106.0,113.5 1106.2,233.3 1106.3,170.6 1106.4,179.3 1106.5,188.8 1106.6,176.3 1106.8,190.4 1106.9,163.2 1107.0,186.6 1107.1,152.5 1107.2,200.2 1107.4,187.4 1107.5,194.6 1107.6,172.9 1107.7,209.6 1107.8,161.0 1108.0,187.5 1108.1,212.5 1108.2,162.6 1108.3,237.0 1108.5,178.8 1108.6,152.7 1108.7,262.5 1108.8,231.7 1108.9,237.9 1109.1,191.7 1109.2,206.5 1109.3,194.6 1109.4,191.5 1109.5,164.1 1109.7,177.0 1109.8,189.2 1109.9,201.2 1110.0,210.2 1110.1,192.0 1110.3,199.4 1110.4,199.3 1110.5,156.0 1110.6,180.2 1110.7,171.0 1110.9,215.0 1111.0,208.8 1111.1,214.9 1111.2,198.0 1111.3,210.8 1111.5,136.0 1111.6,213.6 1111.7,162.8 1111.8,192.3 1111.9,187.0 1112.1,165.5 1112.2,174.9 1112.3,210.8 1112.4,194.7 1112.6,179.3 1112.7,160.7 1112.8,220.5 1112.9,202.7 1113.0,172.4 1113.2,167.7 1113.3,158.7 1113.4,210.3 1113.5,164.0 1113.6,183.9 1113.8,195.1 1113.9,142.7 1114.0,168.4 1114.1,196.1 1114.2,211.3 1114.4,160.9 1114.5,229.7 1114.6,193.0 1114.7,189.1 1114.8,192.0 1115.0,173.7 1115.1,241.4 1115.2,195.5 1115.3,180.9 1115.4,173.5 1115.6,179.8 1115.7,208.0 1115.8,200.1 1115.9,203.7 1116.0,185.0 1116.2,190.0 1116.3,179.4 1116.4,188.7 1116.5,197.2 1116.7,201.1 1116.8,156.9 1116.9,209.1 1117.0,174.5 1117.1,188.9 1117.3,196.1 1117.4,193.7 1117.5,228.8 1117.6,185.2 1117.7,196.6 1117.9,173.5 1118.0,186.7 1118.1,177.2 1118.2,194.2 1118.3,195.9 1118.5,180.4 1118.6,208.6 1118.7,169.2 1118.8,201.2 1118.9,225.6 1119.1,190.3 1119.2,197.7 1119.3,178.2 1119.4,186.0 1119.5,206.2 1119.7,200.6 1119.8,166.4 1119.9,152.2 1120.0,182.9 1120.1,114.0 1120.3,158.3 1120.4,154.7 1120.5,194.4 1120.6,164.6 1120.7,184.4 1120.9,167.8 1121.0,245.5 1121.1,199.4 1121.2,171.2 1121.4,203.4 1121.5,215.3 1121.6,180.3 1121.7,166.7 1121.8,203.9 1122.0,178.6 1122.1,193.4 1122.2,197.8 1122.3,195.3 1122.4,168.7 1122.6,185.9 1122.7,172.0 1122.8,206.8 1122.9,165.8 1123.0,196.1 1123.2,168.4 1123.3,191.9 1123.4,201.3 1123.5,202.9 1123.6,166.8 1123.8,195.4 1123.9,170.7 1124.0,209.7 1124.1,207.3 1124.2,171.2 1124.4,184.5 1124.5,188.9 1124.6,172.3 1124.7,199.1 1124.8,174.3 1125.0,174.5 1125.1,191.8 1125.2,201.7 1125.3,177.8 1125.5,158.3 1125.6,173.1 1125.7,196.8 1125.8,194.5 1125.9,201.1 1126.1,204.1 1126.2,161.2 1126.3,190.5 1126.4,187.9 1126.5,169.1 1126.7,178.4 1126.8,198.9 1126.9,191.1 1127.0,189.1 1127.1,197.8 1127.3,207.4 1127.4,193.4 1127.5,205.1 1127.6,159.3 1127.7,189.7 1127.9,199.9 1128.0,191.6 1128.1,196.9 1128.2,206.0 1128.3,207.9 1128.5,190.2 1128.6,180.9 1128.7,174.6 1128.8,198.2 1128.9,179.9 1129.1,189.0 1129.2,188.8 1129.3,213.7 1129.4,166.9 1129.6,201.0 1129.7,167.1 1129.8,211.0 1129.9,179.6 1130.0,174.1 1130.2,174.2 1130.3,166.6 1130.4,201.7 1130.5,212.9 1130.6,210.8 1130.8,166.5 1130.9,217.1 1131.0,186.7 1131.1,190.1 1131.2,183.8 1131.4,195.0 1131.5,179.2 1131.6,237.9 1131.7,175.8 1131.8,149.0 1132.0,181.6 1132.1,189.4 1132.2,158.5 1132.3,176.8 1132.4,175.0 1132.6,161.6 1132.7,195.9 1132.8,171.2 1132.9,196.3 1133.0,177.0 1133.2,188.7 1133.3,180.9 1133.4,200.2 1133.5,181.3 1133.7,145.2 1133.8,199.4 1133.9,185.9 1134.0,215.6 1134.1,164.4 1134.3,186.1 1134.4,184.6 1134.5,208.2 1134.6,227.4 1134.7,181.7 1134.9,207.9 1135.0,185.3 1135.1,187.7 1135.2,171.9 1135.3,174.9 1135.5,211.6 1135.6,183.1 1135.7,194.1 1135.8,183.5 1135.9,197.0 1136.1,171.5 1136.2,183.3 1136.3,218.5 1136.4,170.8 1136.5,171.2 1136.7,197.8 1136.8,169.4 1136.9,187.2 1137.0,143.4 1137.1,172.8 1137.3,190.3 1137.4,182.9 1137.5,184.8 1137.6,200.5 1137.8,183.8 1137.9,183.0 1138.0,191.8 1138.1,177.2 1138.2,181.4 1138.4,196.6 1138.5,188.2 1138.6,202.2 1138.7,184.7 1138.8,191.1 1139.0,156.5 1139.1,186.1 1139.2,180.9 1139.3,206.1 1139.4,176.4 1139.6,207.3 1139.7,190.4 1139.8,185.4 1139.9,185.8 1140.0,170.9 1140.2,153.6 1140.3,195.9 1140.4,151.4 1140.5,167.3 1140.6,186.1 1140.8,180.6 1140.9,160.0 1141.0,173.8 1141.1,183.6 1141.2,182.1 1141.4,175.4 1141.5,198.1 1141.6,165.2 1141.7,200.7 1141.9,198.2 1142.0,182.8 1142.1,168.1 1142.2,146.6 1142.3,207.9 1142.5,163.4 1142.6,183.5 1142.7,190.1 1142.8,185.6 1142.9,172.3 1143.1,175.7 1143.2,176.3 1143.3,197.9 1143.4,201.4 1143.5,193.3 1143.7,192.9 1143.8,171.9 1143.9,182.2 1144.0,172.8 1144.1,180.7 1144.3,200.7 1144.4,169.0 1144.5,165.5 1144.6,195.2 1144.7,163.7 1144.9,196.6 1145.0,184.2 1145.1,178.0 1145.2,193.3 1145.3,176.0 1145.5,177.8 1145.6,174.8 1145.7,187.3 1145.8,184.9 1146.0,203.7 1146.1,187.7 1146.2,202.0 1146.3,212.6 1146.4,205.4 1146.6,191.8 1146.7,207.2 1146.8,206.2 1146.9,189.9 1147.0,193.9 1147.2,188.7 1147.3,204.9 1147.4,167.8 1147.5,205.0 1147.6,141.0 1147.8,197.2 1147.9,191.3 1148.0,181.0" fill="none" stroke="#0000FF" stroke-width="2" stroke-linejoin="round" stroke-linecap="round" shape-rendering="crispEdges"/>
<polyline points="683.9,186.9 684.0,197.2 684.1,182.0 684.3,188.0 684.4,184.3 684.5,184.7 684.6,185.8 684.7,189.5 684.9,185.8 685.0,178.8 685.1,179.1 685.2,180.5 685.3,187.7 685.5,194.3 685.6,203.3 685.7,195.0 685.8,185.7 685.9,192.3 686.1,183.7 686.2,180.9 686.3,181.5 686.4,188.6 686.6,187.6 686.7,183.9 686.8,187.2 686.9,194.4 687.0,190.2 687.2,183.2 687.3,184.6 687.4,192.6 687.5,184.4 687.6,188.3 687.8,179.0 687.9,182.5 688.0,192.4 688.1,188.8 688.2,183.0 688.4,189.9 688.5,184.0 688.6,185.1 688.7,187.6 688.8,184.1 689.0,185.5 689.1,181.7 689.2,188.9 689.3,186.7 689.4,183.6 689.6,184.6 689.7,192.1 689.8,190.6 689.9,183.1 690.0,187.2 690.2,189.2 690.3,195.2 690.4,191.8 690.5,185.9 690.7,192.7 690.8,185.7 690.9,189.4 691.0,186.5 691.1,181.3 691.3,182.9 691.4,194.2 691.5,181.1 691.6,187.1 691.7,185.5 691.9,187.8 692.0,184.5 692.1,181.6 692.2,179.1 692.3,185.7 692.5,181.0 692.6,199.9 692.7,185.3 692.8,188.1 692.9,186.5 693.1,186.3 693.2,184.0 693.3,203.8 693.4,189.4 693.5,188.4 693.7,188.3 693.8,188.3 693.9,190.5 694.0,189.2 694.1,177.9 694.3,185.3 694.4,177.9 694.5,188.8 694.6,202.5 694.8,177.0 694.9,175.5 695.0,176.6 695.1,183.1 695.2,191.1 695.4,187.1 695.5,185.0 695.6,181.7 695.7,177.3 695.8,180.9 696.0,185.7 696.1,182.2 696.2,177.7 696.3,185.6 696.4,170.9 696.6,184.0 696.7,185.9 696.8,185.3 696.9,182.5 697.0,189.0 697.2,176.5 697.3,186.9 697.4,183.4 697.5,188.4 697.6,194.6 697.8,188.6 697.9,190.2 698.0,181.5 698.1,187.8 698.2,194.1 698.4,186.8 698.5,190.0 698.6,190.8 698.7,182.6 698.9,184.5 699.0,189.7 699.1,184.1 699.2,183.0 699.3,187.5 699.5,208.7 699.6,193.9 699.7,187.8 699.8,186.2 699.9,185.0 700.1,185.4 700.2,184.2 700.3,188.4 700.4,181.9 700.5,182.9 700.7,188.5 700.8,182.8 700.9,181.3 701.0,189.3 701.1,188.7 701.3,189.7 701.4,184.8 701.5,188.0 701.6,189.3 701.7,187.8 701.9,189.1 702.0,188.0 702.1,192.8 702.2,190.6 702.3,182.8 702.5,184.8 702.6,185.0 702.7,191.6 702.8,182.9 703.0,183.7 703.1,188.9 703.2,193.5 703.3,182.7 703.4,185.9 703.6,184.4 703.7,194.0 703.8,169.5 703.9,186.1 704.0,174.9 704.2,192.7 704.3,181.3 704.4,193.7 704.5,184.3 704.6,191.5 704.8,178.1 704.9,185.3 705.0,196.1 705.1,190.5 705.2,187.9 705.4,184.6 705.5,181.1 705.6,185.7 705.7,191.0 705.8,209.8 706.0,197.7 706.1,181.4 706.2,190.4 706.3,185.1 706.4,195.7 706.6,184.6 706.7,183.8 706.8,184.1 706.9,188.2 707.1,190.4 707.2,184.7 707.3,182.9 707.4,189.6 707.5,178.8 707.7,188.2 707.8,174.4 707.9,196.6 708.0,196.6 708.1,192.4 708.3,186.4 708.4,186.0 708.5,190.6 708.6,185.5 708.7,197.7 708.9,169.2 709.0,191.2 709.1,186.1 709.2,173.6 709.3,187.4 709.5,182.4 709.6,191.6 709.7,186.8 709.8,180.7 709.9,190.6 710.1,181.5 710.2,186.1 710.3,187.9 710.4,187.8 710.5,191.1 710.7,193.4 710.8,188.1 710.9,181.6 711.0,195.1 711.2,185.9 711.3,185.2 711.4,193.8 711.5,191.2 711.6,181.2 711.8,189.7 711.9,183.6 712.0,185.2 712.1,178.8 712.2,193.5 712.4,164.7 712.5,181.9 712.6,191.6 712.7,183.4 712.8,189.9 713.0,192.1 713.1,188.9 713.2,198.4 713.3,177.3 713.4,194.2 713.6,183.6 713.7,186.6 713.8,184.8 713.9,185.6 714.0,187.5 714.2,180.5 714.3,187.0 714.4,180.9 714.5,188.0 714.6,185.0 714.8,167.3 714.9,185.9 715.0,187.9 715.1,188.8 715.2,187.1 715.4,196.6 715.5,197.7 715.6,186.5 715.7,177.2 715.9,195.3 716.0,176.1 716.1,180.4 716.2,188.2 716.3,181.0 716.5,178.9 716.6,186.9 716.7,180.7 716.8,194.8 716.9,213.2 717.1,164.4 717.2,183.9 717.3,194.1 717.4,189.6 717.5,187.3 717.7,163.6 717.8,182.6 717.9,188.9 718.0,188.7 718.1,182.0 718.3,177.6 718.4,199.5 718.5,189.3 718.6,188.8 718.7,183.0 718.9,191.7 719.0,202.0 719.1,176.8 719.2,162.0 719.3,179.9 719.5,186.7 719.6,180.7 719.7,176.2 719.8,179.4 720.0,194.4 720.1,178.0 720.2,187.9 720.3,181.8 720.4,186.2 720.6,195.4 720.7,188.2 720.8,187.5 720.9,197.6 721.0,193.1 721.2,186.3 721.3,191.9 721.4,188.2 721.5,182.0 721.6,167.1 721.8,191.4 721.9,182.2 722.0,163.0 722.1,181.5 722.2,190.0 722.4,187.4 722.5,191.4 722.6,180.6 722.7,183.5 722.8,180.2 723.0,184.0 723.1,188.2 723.2,192.2 723.3,160.4 723.4,189.5 723.6,180.5 723.7,185.5 723.8,192.9 723.9,184.8 724.1,187.6 724.2,187.7 724.3,191.4 724.4,181.0 724.5,188.1 724.7,180.8 724.8,181.5 724.9,187.6 725.0,182.5 725.1,195.9 725.3,192.6 725.4,189.1 725.5,184.7 725.6,188.5 725.7,184.6 725.9,171.6 726.0,177.9 726.1,190.6 726.2,183.9 726.3,176.8 726.5,179.7 726.6,184.5 726.7,189.5 726.8,186.3 726.9,176.4 727.1,155.2 727.2,202.6 727.3,187.1 727.4,189.9 727.5,175.0 727.7,190.8 727.8,191.2 727.9,189.9 728.0,193.0 728.2,189.4 728.3,182.9 728.4,187.5 728.5,187.0 728.6,198.9 728.8,195.3 728.9,178.3 729.0,168.0 729.1,184.2 729.2,182.5 729.4,192.9 729.5,191.5 729.6,178.2 729.7,185.8 729.8,172.5 730.0,183.9 730.1,182.0 730.2,187.6 730.3,184.0 730.4,180.2 730.6,182.1 730.7,180.1 730.8,166.5 730.9,179.0 731.0,181.0 731.2,182.7 731.3,184.8 731.4,178.6 731.5,193.7 731.6,189.8 731.8,196.0 731.9,179.3 732.0,189.6 732.1,179.0 732.3,190.8 732.4,168.4 732.5,184.6 732.6,169.1 732.7,193.4 732.9,187.3 733.0,175.7 733.1,173.7 733.2,197.0 733.3,157.8 733.5,194.2 733.6,187.3 733.7,196.7 733.8,174.2 733.9,182.3 734.1,186.1 734.2,190.2 734.3,187.6 734.4,190.3 734.5,186.9 734.7,192.2 734.8,180.0 734.9,190.4 735.0,143.4 735.1,169.2 735.3,202.2 735.4,176.4 735.5,190.6 735.6,190.8 735.7,173.5 735.9,185.2 736.0,182.2 736.1,206.4 736.2,169.8 736.4,180.1 736.5,219.1 736.6,183.3 736.7,189.1 736.8,178.1 737.0,185.9 737.1,161.3 737.2,192.0 737.3,211.5 737.4,177.9 737.6,192.0 737.7,208.2 737.8,177.6 737.9,184.2 738.0,176.8 738.2,186.5 738.3,198.9 738.4,190.6 738.5,190.1 738.6,188.5 738.8,198.3 738.9,183.8 739.0,194.8 739.1,188.4 739.2,216.5 739.4,200.2 739.5,191.0 739.6,187.5 739.7,163.2 739.8,207.6 740.0,203.2 740.1,168.4 740.2,179.2 740.3,179.1 740.5,216.6 740.6,188.4 740.7,185.7 740.8,186.1 740.9,190.3 741.1,190.0 741.2,188.1 741.3,196.3 741.4,187.0 741.5,184.3 741.7,171.7 741.8,190.8 741.9,165.0 742.0,185.1 742.1,200.4 742.3,191.9 742.4,178.6 742.5,186.3 742.6,194.4 742.7,180.7 742.9,187.3 743.0,199.6 743.1,183.2 743.2,143.8 743.3,184.8 743.5,190.6 743.6,204.7 743.7,187.8 743.8,186.8 743.9,194.3 744.1,214.2 744.2,183.0 744.3,203.8 744.4,196.2 744.6,189.6 744.7,168.5 744.8,184.9 744.9,198.0 745.0,182.8 745.2,173.8 745.3,196.5 745.4,180.9 745.5,177.0 745.6,193.4 745.8,188.6 745.9,197.5 746.0,181.3 746.1,197.8 746.2,170.9 746.4,194.1 746.5,184.9 746.6,197.7 746.7,170.2 746.8,211.8 747.0,164.8 747.1,194.1 747.2,190.7 747.3,188.0 747.4,183.7 747.6,203.9 747.7,206.6 747.8,196.8 747.9,184.9 748.0,185.3 748.2,200.7 748.3,201.8 748.4,184.2 748.5,193.0 748.6,203.0 748.8,178.9 748.9,179.8 749.0,178.6 749.1,156.2 749.3,180.5 749.4,197.5 749.5,188.7 749.6,169.5 749.7,191.7 749.9,191.1 750.0,149.6 750.1,186.8 750.2,180.3 750.3,157.2 750.5,190.2 750.6,181.4 750.7,176.4 750.8,188.0 750.9,185.8 751.1,189.1 751.2,166.3 751.3,182.8 751.4,188.2 751.5,199.4 751.7,170.0 751.8,200.3 751.9,214.5 752.0,226.8 752.1,206.5 752.3,161.6 752.4,184.5 752.5,213.5 752.6,153.3 752.7,200.0 752.9,163.9 753.0,206.1 753.1,165.5 753.2,210.1 753.4,147.1 753.5,177.7 753.6,162.2 753.7,205.0 753.8,143.3 754.0,246.5 754.1,168.5 754.2,183.5 754.3,182.0 754.4,159.6 754.6,183.3 754.7,126.5 754.8,189.6 754.9,204.1 755.0,106.5 755.2,240.8 755.3,206.3 755.4,151.7 755.5,194.1 755.6,213.9 755.8,174.6 755.9,177.1 756.0,252.5 756.1,202.1 756.2,168.1 756.4,174.7 756.5,201.7 756.6,193.0 756.7,246.5 756.8,178.7 757.0,167.6 757.1,152.9 757.2,197.8 757.3,224.4 757.5,246.5 757.6,236.7 757.7,174.2 757.8,176.7 757.9,188.9 758.1,206.9 758.2,187.8 758.3,239.5 758.4,216.4 758.5,215.5 758.7,163.8 758.8,169.0 758.9,179.8 759.0,187.3 759.1,200.5 759.3,155.5 759.4,203.4 759.5,161.1 759.6,221.3 759.7,163.2 759.9,173.3 760.0,209.2 760.1,156.1 760.2,169.4 760.3,203.8 760.5,226.3 760.6,185.3 760.7,168.8 760.8,171.2 760.9,194.7 761.1,169.5 761.2,176.9 761.3,190.8 761.4,216.1 761.6,181.2 761.7,209.4 761.8,151.0 761.9,134.2 762.0,229.4 762.2,185.5 762.3,172.7 762.4,163.6 762.5,179.1 762.6,194.8 762.8,203.5 762.9,195.4 763.0,177.4 763.1,196.5 763.2,201.9 763.4,188.5 763.5,138.5 763.6,193.4 763.7,183.0 763.8,186.7 764.0,216.3 764.1,183.0 764.2,154.4 764.3,183.2 764.4,173.3 764.6,183.6 764.7,168.0 764.8,204.1 764.9,155.0 765.0,127.1 765.2,184.6 765.3,200.0 765.4,191.6 765.5,174.9 765.7,188.4 765.8,170.2 765.9,186.3 766.0,218.6 766.1,173.6 766.3,148.7 766.4,198.4 766.5,209.4 766.6,205.4 766.7,161.7 766.9,155.1 767.0,180.9 767.1,180.8 767.2,167.1 767.3,189.3 767.5,164.0 767.6,174.9 767.7,193.3 767.8,224.1 767.9,202.7 768.1,205.8 768.2,190.4 768.3,177.1 768.4,169.8 768.5,183.3 768.7,176.3 768.8,201.8 768.9,191.8 769.0,183.5 769.1,208.9 769.3,199.1 769.4,195.8 769.5,172.1 769.6,191.4 769.8,177.7 769.9,208.8 770.0,201.3 770.1,188.2 770.2,185.5 770.4,208.7 770.5,160.2 770.6,192.6 770.7,190.0 770.8,170.2 771.0,174.1 771.1,187.0 771.2,182.9 771.3,192.1 771.4,178.0 771.6,190.8 771.7,165.9 771.8,171.6 771.9,192.4 772.0,181.7 772.2,195.3 772.3,158.3 772.4,182.4 772.5,181.5 772.6,184.9 772.8,191.5 772.9,205.9 773.0,183.6 773.1,158.2 773.2,187.6 773.4,187.2 773.5,168.0 773.6,191.7 773.7,186.1 773.9,195.1 774.0,186.2 774.1,174.9 774.2,188.8 774.3,158.4 774.5,211.7 774.6,180.3 774.7,190.3 774.8,196.2 774.9,183.7 775.1,182.7 775.2,186.6 775.3,175.9 775.4,189.1 775.5,190.0 775.7,189.1 775.8,169.3 775.9,162.8 776.0,186.4 776.1,186.8 776.3,195.5 776.4,201.1 776.5,198.0 776.6,188.9 776.7,213.6 776.9,194.5 777.0,177.0 777.1,179.0 777.2,178.5 777.3,191.5 777.5,201.6 777.6,210.8 777.7,191.0 777.8,184.1 777.9,184.3 778.1,177.4 778.2,204.1 778.3,184.9 778.4,185.7 778.6,189.4 778.7,188.7 778.8,166.3 778.9,184.1 779.0,167.3 779.2,181.1 779.3,171.9 779.4,176.3 779.5,186.6 779.6,168.9 779.8,187.7 779.9,184.1 780.0,191.5 780.1,190.3 780.2,190.7 780.4,187.1 780.5,181.2 780.6,193.1 780.7,180.8 780.8,207.2 781.0,195.2 781.1,182.2 781.2,208.6 781.3,192.3 781.4,177.1 781.6,189.6 781.7,197.4 781.8,190.5 781.9,189.3 782.0,196.5 782.2,184.0 782.3,189.8 782.4,209.8 782.5,186.2 782.7,196.4 782.8,189.1 782.9,167.4 783.0,197.5 783.1,187.4 783.3,196.0 783.4,191.9 783.5,166.5 783.6,180.8 783.7,198.3 783.9,189.0 784.0,189.8 784.1,183.6 784.2,189.3 784.3,189.3 784.5,180.8 784.6,198.6 784.7,178.5 784.8,188.2 784.9,190.4 785.1,181.4 785.2,187.6 785.3,193.1 785.4,180.4 785.5,181.9 785.7,192.2 785.8,179.9 785.9,190.4 786.0,194.1 786.1,191.8 786.3,188.4 786.4,186.5 786.5,179.3 786.6,195.1 786.8,182.4 786.9,176.8 787.0,188.3 787.1,181.0 787.2,199.9 787.4,188.2 787.5,181.0 787.6,205.0 787.7,188.2 787.8,196.1 788.0,192.2 788.1,186.9 788.2,195.9 788.3,176.7 788.4,192.8 788.6,183.0 788.7,191.1 788.8,179.3 788.9,186.6 789.0,176.2 789.2,184.9 789.3,193.7 789.4,188.2 789.5,199.9 789.6,192.3 789.8,187.0 789.9,180.2 790.0,201.4 790.1,178.3 790.2,185.9 790.4,180.5 790.5,185.7 790.6,188.1 790.7,185.1 790.9,202.1 791.0,188.2 791.1,184.0 791.2,187.1 791.3,179.6 791.5,174.0 791.6,189.3 791.7,177.8 791.8,172.9 791.9,195.8 792.1,183.7 792.2,173.6 792.3,172.7 792.4,182.1 792.5,186.9 792.7,190.0 792.8,187.9 792.9,188.7 793.0,188.4 793.1,184.9 793.3,187.8 793.4,191.1 793.5,193.5 793.6,184.0 793.7,186.3 793.9,188.8 794.0,189.3 794.1,179.5 794.2,181.5 794.3,184.4 794.5,185.1 794.6,191.3 794.7,178.9 794.8,172.2 795.0,184.1 795.1,201.1 795.2,186.8 795.3,186.9 795.4,176.6 795.6,189.4 795.7,191.4 795.8,188.3 795.9,179.5 796.0,189.0 796.2,183.8 796.3,186.6 796.4,190.7 796.5,194.4 796.6,184.8 796.8,186.0 796.9,193.0 797.0,176.1 797.1,187.3 797.2,206.1 797.4,184.6 797.5,177.7 797.6,179.1 797.7,190.2 797.8,184.5 798.0,193.3 798.1,197.9 798.2,188.0 798.3,200.6 798.4,191.5 798.6,189.1 798.7,190.6 798.8,196.0 798.9,199.9 799.1,195.0 799.2,193.0 799.3,181.7 799.4,188.1 799.5,195.1 799.7,194.3 799.8,179.4 799.9,192.7 800.0,182.3 800.1,195.0 800.3,174.6 800.4,185.7 800.5,184.5 800.6,196.7 800.7,178.8 800.9,184.9 801.0,193.6 801.1,186.7 801.2,189.9 801.3,178.1 801.5,189.2 801.6,191.2 801.7,177.4 801.8,183.1 801.9,182.3 802.1,190.3 802.2,178.2 802.3,190.7 802.4,186.4 802.5,183.4 802.7,192.2 802.8,186.5 802.9,180.2 803.0,190.6 803.2,192.7 803.3,180.7 803.4,183.1 803.5,188.4 803.6,187.0 803.8,181.8 803.9,176.1 804.0,190.4 804.1,186.1 804.2,187.0 804.4,196.2 804.5,167.2 804.6,187.1 804.7,171.6 804.8,186.6 805.0,183.2 805.1,182.9 805.2,192.1 805.3,182.5 805.4,185.8 805.6,186.9 805.7,199.8 805.8,176.1 805.9,185.8 806.0,179.5 806.2,181.5 806.3,189.5 806.4,185.4 806.5,185.7 806.6,188.4 806.8,188.0 806.9,192.2 807.0,184.9 807.1,185.3 807.3,180.4 807.4,184.0 807.5,202.3 807.6,191.2 807.7,188.3 807.9,184.8 808.0,187.3 808.1,181.8 808.2,185.8 808.3,184.6 808.5,194.9 808.6,195.5 808.7,192.3 808.8,191.1 808.9,188.1 809.1,189.2 809.2,193.5 809.3,186.6 809.4,192.6 809.5,189.6 809.7,189.3 809.8,170.6 809.9,188.7 810.0,182.4 810.1,186.2 810.3,185.9 810.4,194.7 810.5,189.1 810.6,186.5 810.7,193.2 810.9,182.9 811.0,188.0 811.1,182.6 811.2,182.7 811.3,178.4 811.5,171.8 811.6,193.1 811.7,178.7 811.8,192.0 812.0,183.4 812.1,192.5 812.2,200.5 812.3,182.4 812.4,184.0 812.6,184.2 812.7,185.3 812.8,180.0 812.9,186.9 813.0,186.6 813.2,191.9 813.3,203.4 813.4,194.0 813.5,185.7 813.6,198.5 813.8,191.2 813.9,182.1 814.0,196.5 814.1,191.5 814.2,198.9 814.4,182.7 814.5,198.9 814.6,199.2 814.7,183.7 814.8,175.4 815.0,181.9 815.1,181.6 815.2,194.2 815.3,182.7 815.4,185.1 815.6,180.2 815.7,182.9 815.8,196.9 815.9,196.1 816.1,188.9 816.2,198.6 816.3,187.2 816.4,177.3 816.5,190.6 816.7,194.0 816.8,185.2 816.9,189.5 817.0,193.5 817.1,186.6 817.3,180.4 817.4,188.8 817.5,190.2 817.6,191.2 817.7,185.3 817.9,172.0 818.0,188.4 818.1,186.6 818.2,203.1 818.3,185.5 818.5,183.8 818.6,188.5 818.7,176.7 818.8,180.2 818.9,187.4 819.1,190.3 819.2,186.0 819.3,197.7 819.4,185.9 819.5,181.7 819.7,195.8 819.8,176.9 819.9,194.0 820.0,189.1 820.2,189.9 820.3,183.0 820.4,180.6 820.5,185.9 820.6,180.5 820.8,181.6 820.9,181.7 821.0,184.7 821.1,187.2 821.2,191.0 821.4,184.0 821.5,168.0 821.6,180.8 821.7,191.4 821.8,184.8 822.0,195.6 822.1,190.6 822.2,190.6 822.3,208.4 822.4,176.2 822.6,193.8 822.7,186.6 822.8,191.4 822.9,191.8 823.0,190.1 823.2,183.6 823.3,193.6 823.4,195.5 823.5,185.8 823.6,184.8 823.8,183.0 823.9,183.8 824.0,178.1 824.1,188.6 824.3,195.1 824.4,184.8 824.5,190.1 824.6,180.0 824.7,181.4 824.9,191.1 825.0,198.2 825.1,188.6 825.2,198.8 825.3,183.1 825.5,193.5 825.6,185.5 825.7,187.8 825.8,187.7 825.9,190.4 826.1,190.6 826.2,189.3 826.3,190.3 826.4,191.5 826.5,193.5 826.7,191.1 826.8,180.3 826.9,183.1 827.0,184.5 827.1,182.8 827.3,194.8 827.4,193.4 827.5,192.1 827.6,190.7 827.7,191.3 827.9,185.7 828.0,192.3 828.1,190.0 828.2,179.0 828.4,194.1 828.5,187.2 828.6,187.5 828.7,185.5 828.8,187.4 829.0,187.2 829.1,188.8 829.2,192.9 829.3,189.6 829.4,199.8 829.6,182.8 829.7,189.6 829.8,183.6 829.9,184.5 830.0,187.5 830.2,186.1 830.3,187.3 830.4,182.8 830.5,181.5 830.6,186.5 830.8,191.0 830.9,182.0 831.0,173.9 831.1,184.6 831.2,183.8 831.4,193.5 831.5,191.6 831.6,156.2 831.7,196.3 831.8,189.7 832.0,171.1 832.1,179.1 832.2,192.2 832.3,189.2 832.5,191.2 832.6,177.3 832.7,191.0 832.8,196.3 832.9,182.1 833.1,178.7 833.2,187.9 833.3,182.7 833.4,189.4 833.5,175.3 833.7,191.4 833.8,201.7 833.9,179.5 834.0,190.3 834.1,185.2 834.3,203.2 834.4,196.7 834.5,185.9 834.6,180.0 834.7,185.3 834.9,184.3 835.0,177.9 835.1,186.2 835.2,189.8 835.3,182.9 835.5,195.0 835.6,203.9 835.7,175.2 835.8,180.5 835.9,186.4 836.1,181.4 836.2,211.7 836.3,196.1 836.4,175.6 836.6,180.4 836.7,180.9 836.8,186.4 836.9,190.6 837.0,194.9 837.2,189.4 837.3,186.9 837.4,193.4 837.5,190.2 837.6,189.5 837.8,173.6 837.9,187.0 838.0,197.8 838.1,192.8 838.2,188.0 838.4,194.9 838.5,230.4 838.6,169.9 838.7,188.8 838.8,183.8 839.0,236.0 839.1,187.7 839.2,180.3 839.3,172.9 839.4,184.0 839.6,218.4 839.7,178.5 839.8,188.0 839.9,191.3 840.0,185.6 840.2,201.5 840.3,190.9 840.4,172.6 840.5,197.5 840.6,192.0 840.8,184.9 840.9,181.0 841.0,191.3 841.1,187.7 841.3,194.6 841.4,209.9 841.5,178.9 841.6,207.3 841.7,187.2 841.9,190.0 842.0,179.8 842.1,177.4 842.2,173.3 842.3,191.4 842.5,171.5 842.6,187.1 842.7,190.0 842.8,179.8 842.9,167.9 843.1,205.5 843.2,206.6 843.3,193.7 843.4,231.3 843.5,206.5 843.7,188.8 843.8,187.7 843.9,183.5 844.0,183.4 844.1,180.7 844.3,181.1 844.4,198.2 844.5,181.3 844.6,168.9 844.7,200.3 844.9,189.8 845.0,185.4 845.1,200.4 845.2,176.3 845.4,187.8 845.5,198.1 845.6,208.9 845.7,209.9 845.8,196.9 846.0,196.5 846.1,191.7 846.2,196.1 846.3,195.4 846.4,177.3 846.6,184.4 846.7,190.5 846.8,175.3 846.9,189.0 847.0,187.9 847.2,176.5 847.3,188.0 847.4,177.7 847.5,181.5 847.6,178.6 847.8,183.3 847.9,181.2 848.0,197.4 848.1,197.1 848.2,187.5 848.4,180.9 848.5,173.2 848.6,191.6 848.7,198.7 848.8,162.8 849.0,192.1 849.1,182.0 849.2,185.7 849.3,184.1 849.5,197.7 849.6,186.1 849.7,179.2 849.8,183.6 849.9,183.6 850.1,190.5 850.2,197.1 850.3,188.3 850.4,200.0 850.5,188.4 850.7,189.9 850.8,156.9 850.9,187.3 851.0,183.1 851.1,181.0 851.3,185.2 851.4,193.9 851.5,185.1 851.6,189.6 851.7,186.1 851.9,187.0 852.0,161.9 852.1,188.2 852.2,187.1 852.3,188.4 852.5,206.2 852.6,183.2 852.7,183.2 852.8,188.1 852.9,185.0 853.1,184.0 853.2,180.0 853.3,178.2 853.4,185.0 853.6,190.1 853.7,194.3 853.8,179.9 853.9,174.2 854.0,192.8 854.2,161.3 854.3,176.3 854.4,176.4 854.5,175.7 854.6,182.5 854.8,197.5 854.9,185.9 855.0,185.2 855.1,190.2 855.2,181.7 855.4,187.5 855.5,195.0 855.6,183.8 855.7,186.6 855.8,188.6 856.0,187.0 856.1,190.2 856.2,185.8 856.3,188.1 856.4,186.5 856.6,197.6 856.7,187.0 856.8,192.6 856.9,193.1 857.0,193.5 857.2,193.0 857.3,177.8 857.4,190.6 857.5,185.9 857.7,189.0 857.8,185.7 857.9,187.0 858.0,182.8 858.1,194.6 858.3,187.1 858.4,195.8 858.5,179.3 858.6,190.7 858.7,175.1 858.9,189.1 859.0,183.4 859.1,186.0 859.2,177.9 859.3,183.7 859.5,190.1 859.6,194.2 859.7,190.9 859.8,177.1 859.9,186.6 860.1,190.3 860.2,182.8 860.3,197.4 860.4,179.0 860.5,183.2 860.7,191.6 860.8,197.5 860.9,194.0 861.0,191.7 861.1,179.1 861.3,190.6 861.4,190.9 861.5,178.8 861.6,184.5 861.8,186.4 861.9,192.8 862.0,181.6 862.1,182.6 862.2,178.8 862.4,190.2 862.5,187.4 862.6,181.3 862.7,187.6 862.8,192.2 863.0,186.4 863.1,188.3 863.2,192.9 863.3,185.5 863.4,198.0 863.6,194.7 863.7,189.4 863.8,182.7 863.9,193.3 864.0,193.2 864.2,184.5 864.3,185.2 864.4,183.9 864.5,199.7 864.6,194.2 864.8,186.5 864.9,188.3 865.0,183.6 865.1,174.2 865.2,185.8 865.4,188.9 865.5,194.1 865.6,180.1 865.7,191.2 865.9,188.1 866.0,182.2 866.1,181.4 866.2,186.6 866.3,190.6 866.5,188.5 866.6,179.8 866.7,189.9 866.8,192.5 866.9,188.1 867.1,179.8 867.2,182.0 867.3,190.6 867.4,179.6 867.5,204.7 867.7,188.5 867.8,176.9 867.9,185.8 868.0,180.5 868.1,185.1 868.3,190.3 868.4,181.1 868.5,181.0 868.6,184.1 868.7,183.0 868.9,196.8 869.0,189.6 869.1,184.8 869.2,187.5 869.3,186.5 869.5,188.0 869.6,160.2 869.7,180.0 869.8,186.3 869.9,185.3 870.1,181.0 870.2,184.3 870.3,187.7 870.4,190.9 870.6,202.8 870.7,177.9 870.8,187.0 870.9,174.9 871.0,191.0 871.2,177.3 871.3,188.0 871.4,181.2 871.5,172.3 871.6,156.8 871.8,194.0 871.9,192.2 872.0,189.8 872.1,175.3 872.2,182.8 872.4,189.1 872.5,191.5 872.6,184.8 872.7,182.6 872.8,174.3 873.0,188.4 873.1,189.7 873.2,186.2 873.3,189.5 873.4,175.5 873.6,182.0 873.7,188.3 873.8,194.4 873.9,187.8 874.0,168.3 874.2,198.8 874.3,185.6 874.4,193.4 874.5,184.1 874.7,194.6 874.8,191.0 874.9,188.8 875.0,192.0 875.1,187.9 875.3,182.8 875.4,191.0 875.5,184.0 875.6,189.4 875.7,188.1 875.9,192.7 876.0,178.8 876.1,189.1 876.2,182.5 876.3,176.5 876.5,194.7 876.6,192.7 876.7,187.7 876.8,188.7 876.9,184.8 877.1,184.2 877.2,195.3 877.3,192.9 877.4,175.2 877.5,191.9 877.7,188.0 877.8,187.0 877.9,174.2 878.0,186.4 878.1,191.6 878.3,189.0 878.4,186.7 878.5,191.2 878.6,185.2 878.8,179.6 878.9,180.6 879.0,189.1 879.1,188.2 879.2,194.9 879.4,199.3 879.5,183.5 879.6,193.1 879.7,191.9 879.8,182.1 880.0,193.7 880.1,197.6 880.2,192.3 880.3,187.4 880.4,181.9 880.6,185.0 880.7,173.7 880.8,189.0 880.9,184.4 881.0,183.9 881.2,192.7 881.3,185.9 881.4,189.4 881.5,158.5 881.6,177.6 881.8,191.9 881.9,195.4 882.0,177.3 882.1,192.7 882.2,174.0 882.4,192.1 882.5,180.9 882.6,182.8 882.7,188.3 882.9,194.4 883.0,183.5 883.1,184.3 883.2,193.5 883.3,191.5 883.5,190.7 883.6,192.1 883.7,168.9 883.8,188.4 883.9,191.8 884.1,183.9 884.2,178.6 884.3,189.3 884.4,184.8 884.5,197.4 884.7,190.2 884.8,181.3 884.9,185.3 885.0,209.0 885.1,182.4 885.3,181.4 885.4,194.4 885.5,175.0 885.6,186.0 885.7,180.3 885.9,185.7 886.0,197.0 886.1,187.2 886.2,195.5 886.3,189.4 886.5,182.6 886.6,183.5 886.7,193.3 886.8,187.0 887.0,183.0 887.1,183.9 887.2,174.7 887.3,180.9 887.4,195.7 887.6,182.4 887.7,188.2 887.8,196.7 887.9,189.7 888.0,185.7 888.2,182.9 888.3,184.3 888.4,175.3 888.5,181.5 888.6,186.9 888.8,183.3 888.9,158.9 889.0,197.2 889.1,187.8 889.2,204.0 889.4,187.0 889.5,182.0 889.6,188.8 889.7,193.8 889.8,185.7 890.0,186.0 890.1,190.0 890.2,184.7 890.3,175.1 890.4,188.2 890.6,194.4 890.7,183.9 890.8,183.0 890.9,188.6 891.1,187.5 891.2,186.7 891.3,186.1 891.4,183.8 891.5,187.7 891.7,188.9 891.8,181.2 891.9,189.8 892.0,185.5 892.1,188.8 892.3,194.9 892.4,178.9 892.5,186.6 892.6,181.0 892.7,190.8 892.9,193.9 893.0,178.5 893.1,186.8 893.2,185.9 893.3,186.5 893.5,185.3 893.6,195.4 893.7,184.3 893.8,182.9 893.9,203.0 894.1,189.3 894.2,195.6 894.3,186.3 894.4,194.8 894.5,179.3 894.7,187.8 894.8,190.9 894.9,183.8 895.0,192.9 895.2,184.3 895.3,174.1 895.4,188.3 895.5,187.0 895.6,180.5 895.8,183.9 895.9,179.6 896.0,185.0 896.1,183.5 896.2,186.3 896.4,183.0 896.5,188.7 896.6,186.7 896.7,186.0 896.8,194.4 897.0,189.1 897.1,189.7 897.2,184.3 897.3,188.9 897.4,180.6 897.6,190.6 897.7,184.7 897.8,181.6 897.9,190.1 898.0,184.8 898.2,185.8 898.3,190.1 898.4,199.9 898.5,187.9 898.6,188.0 898.8,184.2 898.9,186.9 899.0,190.2 899.1,190.9 899.3,172.7 899.4,195.6 899.5,189.8 899.6,178.6 899.7,188.5 899.9,187.8 900.0,183.0 900.1,181.8 900.2,189.5 900.3,182.8 900.5,185.3 900.6,190.8 900.7,177.0 900.8,194.5 900.9,184.0 901.1,186.5 901.2,185.6 901.3,195.7 901.4,188.4 901.5,188.8 901.7,192.0 901.8,187.2 901.9,184.5 902.0,190.1 902.1,182.9 902.3,189.9 902.4,189.3 902.5,190.0 902.6,182.6 902.7,181.5 902.9,184.5 903.0,186.1 903.1,192.1 903.2,184.4 903.3,195.5 903.5,185.8 903.6,189.8 903.7,184.0 903.8,195.8 904.0,189.3 904.1,192.0 904.2,182.7 904.3,186.0 904.4,179.5 904.6,191.3 904.7,187.1 904.8,183.2 904.9,189.3 905.0,184.5 905.2,183.0 905.3,197.1 905.4,200.4 905.5,164.0 905.6,182.9 905.8,188.3 905.9,177.1 906.0,186.0 906.1,187.4 906.2,189.5 906.4,173.9 906.5,183.6 906.6,186.0 906.7,177.3 906.8,187.1 907.0,181.0 907.1,184.4 907.2,188.5 907.3,184.4 907.4,193.4 907.6,185.9 907.7,191.5 907.8,189.0 907.9,188.7 908.1,179.6 908.2,184.8 908.3,185.4 908.4,185.2 908.5,194.6 908.7,189.6 908.8,183.9 908.9,181.4 909.0,186.6 909.1,194.0 909.3,189.1 909.4,193.1 909.5,179.7 909.6,180.8 909.7,193.1 909.9,186.5 910.0,186.3 910.1,188.6 910.2,181.3 910.3,180.2 910.5,182.0 910.6,184.8 910.7,173.2 910.8,199.8 910.9,188.2 911.1,190.9 911.2,184.0 911.3,190.9 911.4,183.3 911.5,182.7 911.7,184.3 911.8,183.4 911.9,192.2 912.0,184.3 912.2,189.0 912.3,183.2 912.4,183.6 912.5,181.5 912.6,194.7 912.8,186.6 912.9,192.6 913.0,190.0 913.1,189.2 913.2,184.7 913.4,179.8 913.5,178.7 913.6,190.9 913.7,181.5 913.8,186.3 914.0,186.0 914.1,186.5 914.2,192.6 914.3,191.0 914.4,201.9 914.6,197.5 914.7,191.1 914.8,170.5 914.9,169.7 915.0,184.7 915.2,186.8 915.3,186.2 915.4,189.3 915.5,183.8 915.6,191.2 915.8,191.5 915.9,184.6 916.0,189.6 916.1,189.6 916.3,183.1 916.4,190.8 916.5,179.4 916.6,192.8 916.7,187.4 916.9,188.2 917.0,185.4 917.1,167.7 917.2,193.1 917.3,178.2 917.5,205.6 917.6,187.3 917.7,183.4 917.8,179.7 917.9,184.1 918.1,189.8 918.2,194.2 918.3,186.1 918.4,189.3 918.5,183.5 918.7,188.8 918.8,188.0 918.9,182.1 919.0,186.0 919.1,188.7 919.3,189.4 919.4,194.4 919.5,178.0 919.6,184.2 919.7,188.4 919.9,184.8 920.0,181.4 920.1,175.9 920.2,178.7 920.4,188.9 920.5,189.1 920.6,183.9 920.7,184.6 920.8,189.4 921.0,186.8 921.1,185.8 921.2,185.5 921.3,195.3 921.4,185.1 921.6,184.3 921.7,190.9 921.8,176.7 921.9,188.0 922.0,181.8 922.2,186.7 922.3,184.0 922.4,183.4 922.5,184.6 922.6,191.8 922.8,185.0 922.9,186.8 923.0,177.6 923.1,196.0 923.2,191.3 923.4,190.9 923.5,191.4 923.6,186.9 923.7,189.3 923.8,190.8 924.0,187.2 924.1,190.3 924.2,190.6 924.3,188.7 924.5,178.0 924.6,189.2 924.7,199.4 924.8,186.8 924.9,184.2 925.1,188.6 925.2,182.0 925.3,194.2 925.4,191.9 925.5,195.4 925.7,194.4 925.8,200.3 925.9,183.7 926.0,174.1 926.1,185.5 926.3,187.9 926.4,183.8 926.5,192.2 926.6,187.0 926.7,177.5 926.9,185.4 927.0,187.7 927.1,182.0 927.2,189.7 927.3,172.2 927.5,188.2 927.6,184.1 927.7,189.3 927.8,194.2 927.9,181.7 928.1,187.1 928.2,201.3 928.3,186.0 928.4,190.2 928.6,185.7 928.7,189.5 928.8,184.5 928.9,189.3 929.0,185.9 929.2,190.1 929.3,200.9 929.4,184.0 929.5,188.4 929.6,190.8 929.8,185.8 929.9,190.8 930.0,189.0 930.1,192.9 930.2,178.1 930.4,188.5 930.5,183.1 930.6,175.2 930.7,184.1 930.8,175.8 931.0,189.3 931.1,176.0 931.2,178.0 931.3,194.2 931.4,193.4 931.6,183.6 931.7,186.7 931.8,180.7 931.9,187.3 932.0,187.2 932.2,189.4 932.3,183.7 932.4,195.1 932.5,193.6 932.6,195.8 932.8,181.1 932.9,187.5 933.0,179.1 933.1,174.4 933.3,190.2 933.4,188.4 933.5,190.0 933.6,198.2 933.7,197.0 933.9,187.4 934.0,179.8 934.1,180.0 934.2,183.8 934.3,189.7 934.5,166.4 934.6,187.5 934.7,186.3 934.8,189.6 934.9,180.8 935.1,177.7 935.2,190.0 935.3,187.1 935.4,185.2 935.5,184.5 935.7,185.9 935.8,191.2 935.9,183.7 936.0,185.6 936.1,188.9 936.3,189.7 936.4,185.6 936.5,176.1 936.6,183.9 936.7,190.8 936.9,200.2 937.0,188.5 937.1,191.2 937.2,184.5 937.4,185.8 937.5,187.6 937.6,175.8 937.7,193.4 937.8,177.3 938.0,184.8 938.1,190.5 938.2,187.4 938.3,185.4 938.4,184.4 938.6,186.2 938.7,185.1 938.8,189.8 938.9,193.5 939.0,177.7 939.2,186.2 939.3,178.9 939.4,185.6 939.5,187.7 939.6,184.2 939.8,185.9 939.9,192.0 940.0,180.9 940.1,195.6 940.2,192.2 940.4,176.3 940.5,185.9 940.6,184.5 940.7,185.3 940.8,185.2 941.0,184.7 941.1,197.2 941.2,189.3 941.3,190.5 941.5,188.0 941.6,186.4 941.7,183.3 941.8,190.3 941.9,177.9 942.1,186.7 942.2,202.2 942.3,184.2 942.4,180.2 942.5,184.5 942.7,187.3 942.8,185.2 942.9,192.7 943.0,180.7 943.1,168.5 943.3,182.6 943.4,185.4 943.5,175.6 943.6,191.5 943.7,188.5 943.9,190.2 944.0,209.7 944.1,186.4 944.2,192.7 944.3,164.0 944.5,196.5 944.6,193.1 944.7,179.9 944.8,195.8 944.9,175.7 945.1,185.9 945.2,185.5 945.3,178.8 945.4,182.6 945.6,186.2 945.7,202.3 945.8,188.5 945.9,190.1 946.0,183.6 946.2,186.8 946.3,188.5 946.4,190.6 946.5,185.3 946.6,193.8 946.8,178.8 946.9,194.9 947.0,185.2 947.1,194.0 947.2,186.1 947.4,185.6 947.5,182.2 947.6,181.8 947.7,184.8 947.8,177.5 948.0,182.3 948.1,177.3 948.2,181.4 948.3,186.8 948.4,181.7 948.6,188.4 948.7,181.1 948.8,187.5 948.9,193.1 949.0,183.2 949.2,206.0 949.3,185.7 949.4,176.7 949.5,180.1 949.7,183.5 949.8,187.1 949.9,185.9 950.0,181.4 950.1,180.1 950.3,190.9 950.4,192.5 950.5,191.2 950.6,179.6 950.7,186.5 950.9,181.1 951.0,186.0 951.1,183.5 951.2,187.2 951.3,184.4 951.5,189.1 951.6,182.1 951.7,183.1 951.8,178.6 951.9,180.7 952.1,189.7 952.2,184.4 952.3,187.4 952.4,172.9 952.5,191.3 952.7,191.6 952.8,197.9 952.9,196.0 953.0,184.5 953.1,184.8 953.3,189.1 953.4,184.9 953.5,183.9 953.6,179.6 953.8,179.1 953.9,190.4 954.0,190.3 954.1,182.1 954.2,178.2 954.4,188.7 954.5,188.4 954.6,195.4 954.7,186.9 954.8,184.7 955.0,181.1 955.1,201.0 955.2,192.1 955.3,191.8 955.4,182.6 955.6,186.1 955.7,179.8 955.8,179.6 955.9,183.6 956.0,188.9 956.2,185.1 956.3,193.5 956.4,182.0 956.5,186.8 956.6,184.2 956.8,179.6 956.9,192.8 957.0,193.1 957.1,185.4 957.2,182.6 957.4,184.9 957.5,184.8 957.6,188.6 957.7,187.7 957.9,181.3 958.0,190.1 958.1,189.9 958.2,190.7 958.3,186.8 958.5,192.5 958.6,191.1 958.7,179.1 958.8,194.6 958.9,192.6 959.1,185.6 959.2,190.8 959.3,184.0 959.4,185.3 959.5,189.3 959.7,188.6 959.8,184.1 959.9,183.6 960.0,188.6 960.1,187.4 960.3,180.7 960.4,202.2 960.5,184.3 960.6,186.8 960.7,187.6 960.9,190.5 961.0,172.3 961.1,173.5 961.2,186.1 961.3,191.5 961.5,177.2 961.6,182.8 961.7,182.6 961.8,187.8 962.0,194.4 962.1,185.0 962.2,188.5 962.3,185.5 962.4,186.3 962.6,176.7 962.7,191.4 962.8,190.7 962.9,190.6 963.0,189.5 963.2,188.0 963.3,180.6 963.4,184.9 963.5,190.9 963.6,188.3 963.8,184.6 963.9,185.3 964.0,171.9 964.1,189.6 964.2,186.3 964.4,184.9 964.5,187.7 964.6,190.1 964.7,185.0 964.8,185.9 965.0,190.1 965.1,186.9 965.2,180.6 965.3,194.9 965.4,182.2 965.6,186.0 965.7,183.0 965.8,193.1 965.9,190.5 966.0,191.5 966.2,185.8 966.3,188.5 966.4,189.4 966.5,180.3 966.7,191.8 966.8,189.4 966.9,183.3 967.0,184.9 967.1,183.9 967.3,183.6 967.4,187.1 967.5,180.4 967.6,189.4 967.7,184.2 967.9,192.1 968.0,190.8 968.1,187.8 968.2,187.1 968.3,182.9 968.5,183.2 968.6,189.8 968.7,182.2 968.8,187.3 968.9,185.9 969.1,189.7 969.2,184.1 969.3,181.5 969.4,185.8 969.5,181.8 969.7,185.3 969.8,185.0 969.9,191.5 970.0,187.1 970.1,183.6 970.3,188.4 970.4,187.6 970.5,183.2 970.6,193.8 970.8,185.4 970.9,190.1 971.0,185.1 971.1,192.6 971.2,187.6 971.4,191.7 971.5,196.0 971.6,175.8 971.7,180.6 971.8,186.6 972.0,186.1 972.1,195.3 972.2,185.4 972.3,185.2 972.4,190.6 972.6,192.0 972.7,183.0 972.8,185.8 972.9,185.5 973.0,187.9 973.2,171.5 973.3,184.6 973.4,190.2 973.5,182.7 973.6,188.4 973.8,186.4 973.9,193.2 974.0,192.1 974.1,171.7 974.2,189.5 974.4,189.8 974.5,186.6 974.6,182.6 974.7,184.7 974.9,184.5 975.0,191.5 975.1,187.6 975.2,178.9 975.3,183.8 975.5,184.0 975.6,187.4 975.7,179.6 975.8,190.0 975.9,189.4 976.1,186.0 976.2,190.9 976.3,181.8 976.4,175.6 976.5,193.3 976.7,186.1 976.8,185.1 976.9,187.6 977.0,184.8 977.1,190.6 977.3,195.3 977.4,185.9 977.5,189.9 977.6,184.7 977.7,188.1 977.9,190.1 978.0,186.7 978.1,187.3 978.2,180.6 978.3,187.7 978.5,187.6 978.6,189.4 978.7,184.6 978.8,185.1 979.0,188.5 979.1,185.3 979.2,185.4 979.3,182.5 979.4,182.7 979.6,182.6 979.7,182.2 979.8,179.9 979.9,186.7 980.0,185.2 980.2,180.8 980.3,191.9 980.4,196.5 980.5,182.7 980.6,184.8 980.8,180.5 980.9,189.3 981.0,167.5 981.1,191.8 981.2,189.6 981.4,180.5 981.5,184.1 981.6,184.0 981.7,182.6 981.8,185.5 982.0,194.9 982.1,192.7 982.2,193.7 982.3,173.0 982.4,178.0 982.6,167.8 982.7,192.0 982.8,187.6 982.9,184.5 983.1,192.5 983.2,190.6 983.3,188.5 983.4,181.9 983.5,187.0 983.7,188.1 983.8,187.0 983.9,176.2 984.0,179.7 984.1,188.4 984.3,180.5 984.4,191.4 984.5,187.6 984.6,187.6 984.7,184.4 984.9,184.2 985.0,184.5 985.1,186.0 985.2,188.8 985.3,176.4 985.5,179.6 985.6,193.9 985.7,193.5 985.8,186.0 985.9,188.4 986.1,187.5 986.2,193.6 986.3,188.5 986.4,193.1 986.5,186.4 986.7,186.6 986.8,195.4 986.9,183.9 987.0,189.1 987.2,190.0 987.3,187.5 987.4,184.2 987.5,181.3 987.6,191.6 987.8,192.6 987.9,189.2 988.0,181.4 988.1,183.9 988.2,188.4 988.4,180.5 988.5,183.8 988.6,181.3 988.7,185.1 988.8,186.6 989.0,182.5 989.1,190.1 989.2,188.5 989.3,189.8 989.4,189.7 989.6,187.2 989.7,190.2 989.8,192.8 989.9,176.1 990.0,192.7 990.2,184.8 990.3,198.7 990.4,172.3 990.5,182.6 990.6,188.6 990.8,177.1 990.9,186.6 991.0,187.4 991.1,193.0 991.3,176.9 991.4,187.3 991.5,195.1 991.6,180.1 991.7,181.6 991.9,187.5 992.0,179.8 992.1,190.1 992.2,185.5 992.3,188.6 992.5,176.7 992.6,181.9 992.7,192.6 992.8,181.0 992.9,193.9 993.1,194.0 993.2,186.9 993.3,185.0 993.4,187.6 993.5,187.4 993.7,190.2 993.8,188.6 993.9,186.6 994.0,186.3 994.1,184.2 994.3,187.2 994.4,187.6 994.5,186.7 994.6,183.8 994.7,183.7 994.9,191.0 995.0,180.7 995.1,183.6 995.2,187.6 995.3,186.4 995.5,194.6 995.6,190.7 995.7,189.6 995.8,186.8 996.0,186.1 996.1,180.7 996.2,181.8 996.3,187.9 996.4,189.7 996.6,186.9 996.7,196.2 996.8,180.9 996.9,186.2 997.0,189.1 997.2,191.3 997.3,188.0 997.4,181.2 997.5,188.0 997.6,187.4 997.8,179.4 997.9,172.1 998.0,186.6 998.1,184.2 998.2,186.2 998.4,190.9 998.5,186.8 998.6,186.2 998.7,178.8 998.8,184.1 999.0,182.4 999.1,188.9 999.2,193.4 999.3,189.3 999.4,184.1 999.6,185.4 999.7,205.0 999.8,188.7 999.9,182.7 1000.1,185.6 1000.2,186.0 1000.3,183.2 1000.4,184.8 1000.5,184.4 1000.7,181.3 1000.8,181.3 1000.9,188.6 1001.0,185.8 1001.1,181.5 1001.3,195.8 1001.4,185.0 1001.5,184.0 1001.6,207.1 1001.7,184.3 1001.9,186.9 1002.0,185.8 1002.1,188.6 1002.2,192.3 1002.3,185.3 1002.5,172.2 1002.6,181.6 1002.7,185.1 1002.8,184.1 1002.9,186.2 1003.1,180.3 1003.2,182.8 1003.3,178.2 1003.4,187.7 1003.5,191.6 1003.7,180.4 1003.8,179.5 1003.9,186.2 1004.0,172.1 1004.2,188.8 1004.3,188.5 1004.4,184.2 1004.5,188.4 1004.6,188.2 1004.8,182.9 1004.9,182.1 1005.0,186.2 1005.1,186.4 1005.2,185.6 1005.4,180.1 1005.5,185.5 1005.6,191.4 1005.7,183.8 1005.8,183.2 1006.0,190.9 1006.1,190.5 1006.2,184.7 1006.3,183.7 1006.4,188.8 1006.6,188.3 1006.7,187.1 1006.8,175.1 1006.9,180.0 1007.0,190.2 1007.2,183.6 1007.3,183.5 1007.4,190.7 1007.5,186.9 1007.6,179.7 1007.8,177.6 1007.9,186.8 1008.0,198.9 1008.1,189.7 1008.3,182.3 1008.4,182.1 1008.5,189.8 1008.6,182.9 1008.7,188.7 1008.9,183.4 1009.0,170.4 1009.1,193.7 1009.2,189.5 1009.3,184.5 1009.5,176.3 1009.6,190.6 1009.7,181.2 1009.8,185.0 1009.9,176.2 1010.1,196.7 1010.2,182.6 1010.3,186.2 1010.4,186.4 1010.5,172.8 1010.7,188.3 1010.8,180.2 1010.9,186.1 1011.0,191.7 1011.1,189.5 1011.3,184.8 1011.4,205.8 1011.5,187.2 1011.6,187.7 1011.7,187.6 1011.9,188.6 1012.0,188.2 1012.1,183.7 1012.2,188.7 1012.4,179.0 1012.5,183.8 1012.6,177.4 1012.7,188.9 1012.8,179.1 1013.0,180.2 1013.1,186.4 1013.2,189.2 1013.3,183.1 1013.4,195.6 1013.6,187.2 1013.7,192.8 1013.8,180.7 1013.9,189.2 1014.0,176.9 1014.2,187.2 1014.3,196.5 1014.4,180.4 1014.5,183.7 1014.6,188.3 1014.8,183.9 1014.9,184.8 1015.0,181.8 1015.1,187.1 1015.2,184.7 1015.4,186.0 1015.5,193.3 1015.6,186.0 1015.7,182.1 1015.8,195.3 1016.0,180.1 1016.1,187.0 1016.2,181.5 1016.3,193.4 1016.5,189.7 1016.6,182.4 1016.7,182.9 1016.8,185.1 1016.9,183.7 1017.1,177.1 1017.2,183.8 1017.3,187.1 1017.4,190.7 1017.5,196.1 1017.7,190.5 1017.8,177.3 1017.9,186.3 1018.0,186.6 1018.1,187.1 1018.3,193.8 1018.4,205.7 1018.5,186.4 1018.6,188.5 1018.7,186.3 1018.9,186.4 1019.0,195.7 1019.1,180.3 1019.2,185.8 1019.3,176.4 1019.5,183.6 1019.6,170.4 1019.7,188.9 1019.8,181.5 1019.9,180.3 1020.1,198.4 1020.2,181.7 1020.3,183.4 1020.4,177.6 1020.6,189.5 1020.7,193.7 1020.8,184.0 1020.9,181.9 1021.0,187.0 1021.2,183.6 1021.3,177.2 1021.4,179.2 1021.5,188.1 1021.6,188.4 1021.8,184.7 1021.9,197.8 1022.0,182.7 1022.1,196.1 1022.2,182.4 1022.4,169.7 1022.5,184.1 1022.6,181.1 1022.7,182.0 1022.8,189.7 1023.0,191.7 1023.1,183.6 1023.2,172.7 1023.3,187.2 1023.4,184.3 1023.6,185.9 1023.7,190.8 1023.8,192.3 1023.9,194.9 1024.0,188.7 1024.2,181.7 1024.3,177.6 1024.4,191.5 1024.5,186.6 1024.6,176.3 1024.8,185.9 1024.9,187.1 1025.0,189.3 1025.1,183.2 1025.3,180.2 1025.4,183.7 1025.5,183.7 1025.6,193.6 1025.7,189.1 1025.9,183.7 1026.0,191.6 1026.1,180.5 1026.2,184.5 1026.3,178.1 1026.5,189.7 1026.6,188.8 1026.7,191.3 1026.8,189.7 1026.9,185.8 1027.1,189.2 1027.2,186.9 1027.3,183.0 1027.4,187.4 1027.5,175.8 1027.7,183.9 1027.8,185.7 1027.9,186.3 1028.0,198.7 1028.1,190.3 1028.3,186.4 1028.4,183.4 1028.5,189.7 1028.6,183.8 1028.7,190.9 1028.9,188.9 1029.0,189.3 1029.1,198.0 1029.2,189.9 1029.4,186.4 1029.5,183.0 1029.6,188.9 1029.7,183.9 1029.8,188.0 1030.0,187.5 1030.1,172.5 1030.2,180.8 1030.3,191.6 1030.4,182.3 1030.6,192.7 1030.7,193.6 1030.8,194.5 1030.9,197.1 1031.0,190.1 1031.2,191.0 1031.3,188.3 1031.4,188.4 1031.5,188.6 1031.6,183.0 1031.8,179.2 1031.9,172.8 1032.0,195.8 1032.1,180.6 1032.2,187.8 1032.4,184.9 1032.5,188.2 1032.6,195.0 1032.7,180.5 1032.8,188.2 1033.0,193.9 1033.1,201.0 1033.2,193.9 1033.3,188.3 1033.5,187.5 1033.6,186.9 1033.7,179.6 1033.8,194.8 1033.9,189.4 1034.1,181.7 1034.2,201.3 1034.3,184.6 1034.4,193.6 1034.5,183.5 1034.7,188.0 1034.8,187.2 1034.9,186.6 1035.0,178.6 1035.1,186.7 1035.3,181.1 1035.4,179.4 1035.5,187.6 1035.6,184.7 1035.7,182.5 1035.9,183.1 1036.0,190.3 1036.1,188.4 1036.2,185.0 1036.3,186.1 1036.5,186.2 1036.6,189.4 1036.7,175.2 1036.8,191.7 1036.9,184.5 1037.1,183.5 1037.2,179.4 1037.3,185.9 1037.4,186.5 1037.6,186.0 1037.7,192.7 1037.8,185.9 1037.9,191.1 1038.0,184.1 1038.2,190.9 1038.3,171.8 1038.4,182.4 1038.5,178.2 1038.6,179.9 1038.8,186.3 1038.9,188.9 1039.0,182.8 1039.1,181.8 1039.2,181.9 1039.4,189.3 1039.5,184.1 1039.6,202.7 1039.7,191.5 1039.8,191.5 1040.0,176.7 1040.1,184.3 1040.2,194.0 1040.3,176.1 1040.4,200.0 1040.6,190.3 1040.7,184.2 1040.8,200.4 1040.9,189.0 1041.0,182.3 1041.2,191.1 1041.3,190.9 1041.4,186.9 1041.5,184.0 1041.7,176.7 1041.8,180.0 1041.9,202.2 1042.0,188.0 1042.1,194.2 1042.3,179.0 1042.4,194.1 1042.5,174.6 1042.6,189.1 1042.7,185.9 1042.9,188.5 1043.0,186.2 1043.1,194.7 1043.2,204.4 1043.3,193.1 1043.5,181.3 1043.6,181.5 1043.7,195.5 1043.8,188.3 1043.9,178.3 1044.1,194.2 1044.2,197.3 1044.3,186.6 1044.4,182.1 1044.5,177.3 1044.7,179.0 1044.8,181.1 1044.9,187.7 1045.0,191.6 1045.1,186.8 1045.3,183.6 1045.4,201.3 1045.5,184.8 1045.6,176.8 1045.8,179.4 1045.9,195.3 1046.0,178.3 1046.1,191.9 1046.2,200.7 1046.4,173.3 1046.5,184.2 1046.6,182.7 1046.7,189.9 1046.8,193.5 1047.0,179.0 1047.1,191.2 1047.2,187.5 1047.3,187.7 1047.4,200.2 1047.6,182.3 1047.7,186.0 1047.8,198.6 1047.9,182.7 1048.0,176.6 1048.2,182.7 1048.3,183.6 1048.4,182.7 1048.5,190.4 1048.6,189.7 1048.8,212.8 1048.9,188.0 1049.0,182.8 1049.1,191.9 1049.2,178.1 1049.4,186.0 1049.5,186.0 1049.6,191.7 1049.7,189.6 1049.9,182.8 1050.0,179.9 1050.1,186.2 1050.2,189.6 1050.3,173.8 1050.5,187.9 1050.6,183.5 1050.7,184.9 1050.8,194.9 1050.9,192.1 1051.1,181.1 1051.2,187.0 1051.3,190.5 1051.4,191.7 1051.5,183.2 1051.7,186.8 1051.8,183.6 1051.9,189.3 1052.0,175.2 1052.1,185.2 1052.3,182.0 1052.4,190.5 1052.5,184.1 1052.6,172.5 1052.7,192.2 1052.9,181.0 1053.0,179.8 1053.1,197.2 1053.2,186.0 1053.3,188.1 1053.5,195.3 1053.6,185.1 1053.7,186.3 1053.8,190.4 1054.0,191.9 1054.1,192.4 1054.2,183.6 1054.3,181.9 1054.4,194.1 1054.6,192.6 1054.7,190.1 1054.8,190.3 1054.9,189.5 1055.0,185.7 1055.2,185.2 1055.3,182.4 1055.4,186.0 1055.5,194.1 1055.6,186.2 1055.8,186.1 1055.9,179.5 1056.0,181.9 1056.1,179.7 1056.2,192.4 1056.4,193.6 1056.5,180.7 1056.6,171.4 1056.7,175.1 1056.8,193.2 1057.0,185.9 1057.1,190.0 1057.2,176.0 1057.3,191.0 1057.4,192.1 1057.6,195.7 1057.7,187.2 1057.8,195.8 1057.9,187.9 1058.0,193.1 1058.2,183.6 1058.3,169.0 1058.4,195.7 1058.5,190.7 1058.7,199.1 1058.8,186.0 1058.9,188.0 1059.0,187.8 1059.1,182.9 1059.3,178.8 1059.4,190.7 1059.5,164.2 1059.6,196.0 1059.7,194.4 1059.9,186.4 1060.0,182.9 1060.1,200.3 1060.2,183.1 1060.3,190.5 1060.5,179.5 1060.6,187.1 1060.7,195.8 1060.8,178.6 1060.9,205.3 1061.1,172.9 1061.2,185.9 1061.3,185.9 1061.4,189.8 1061.5,196.9 1061.7,178.7 1061.8,191.1 1061.9,179.3 1062.0,182.4 1062.1,192.8 1062.3,190.9 1062.4,184.3 1062.5,184.1 1062.6,194.4 1062.8,179.6 1062.9,187.2 1063.0,187.0 1063.1,192.4 1063.2,188.9 1063.4,177.5 1063.5,170.6 1063.6,181.5 1063.7,184.7 1063.8,184.4 1064.0,192.3 1064.1,189.4 1064.2,178.3 1064.3,185.7 1064.4,200.7 1064.6,187.0 1064.7,150.5 1064.8,186.1 1064.9,172.5 1065.0,186.3 1065.2,196.1 1065.3,180.7 1065.4,180.6 1065.5,186.3 1065.6,187.3 1065.8,187.5 1065.9,183.6 1066.0,187.8 1066.1,183.5 1066.2,186.1 1066.4,182.3 1066.5,188.2 1066.6,195.8 1066.7,177.2 1066.9,186.9 1067.0,192.7 1067.1,180.1 1067.2,193.8 1067.3,188.1 1067.5,183.8 1067.6,184.4 1067.7,198.7 1067.8,175.6 1067.9,196.9 1068.1,192.8 1068.2,194.4 1068.3,182.0 1068.4,191.3 1068.5,180.4 1068.7,177.5 1068.8,192.8 1068.9,207.7 1069.0,179.2 1069.1,183.7 1069.3,181.5 1069.4,191.0 1069.5,185.1 1069.6,194.0 1069.7,195.6 1069.9,191.5 1070.0,177.1 1070.1,187.7 1070.2,189.6 1070.3,184.0 1070.5,179.1 1070.6,173.6 1070.7,193.6 1070.8,186.2 1071.0,197.2 1071.1,187.8 1071.2,194.6 1071.3,185.8 1071.4,191.0 1071.6,186.7 1071.7,185.5 1071.8,183.3 1071.9,200.7 1072.0,177.0 1072.2,188.5 1072.3,185.6 1072.4,182.2 1072.5,174.8 1072.6,176.1 1072.8,180.5 1072.9,176.3 1073.0,182.9 1073.1,174.0 1073.2,186.6 1073.4,183.0 1073.5,180.1 1073.6,187.5 1073.7,190.0 1073.8,183.7 1074.0,190.5 1074.1,189.5 1074.2,186.9 1074.3,189.0 1074.4,177.6 1074.6,180.1 1074.7,176.8 1074.8,191.2 1074.9,184.7 1075.1,182.7 1075.2,190.5 1075.3,189.6 1075.4,185.4 1075.5,183.9 1075.7,187.6 1075.8,188.0 1075.9,177.7 1076.0,182.3 1076.1,189.1 1076.3,174.3 1076.4,189.2 1076.5,176.8 1076.6,184.4 1076.7,203.7 1076.9,190.6 1077.0,186.8 1077.1,192.1 1077.2,187.2 1077.3,192.6 1077.5,193.7 1077.6,184.1 1077.7,179.6 1077.8,186.0 1077.9,187.4 1078.1,187.2 1078.2,185.8 1078.3,187.0 1078.4,189.5 1078.5,179.8 1078.7,176.1 1078.8,179.2 1078.9,186.2 1079.0,186.2 1079.2,176.1 1079.3,180.7 1079.4,164.2 1079.5,191.9 1079.6,186.7 1079.8,189.6 1079.9,176.2 1080.0,184.5 1080.1,194.0 1080.2,183.5 1080.4,183.1 1080.5,181.1 1080.6,176.1 1080.7,186.6 1080.8,193.9 1081.0,192.7 1081.1,186.1 1081.2,173.3 1081.3,184.8 1081.4,189.2 1081.6,181.2 1081.7,190.1 1081.8,182.9 1081.9,188.5 1082.0,194.0 1082.2,184.3 1082.3,183.6 1082.4,183.0 1082.5,193.6 1082.6,183.8 1082.8,182.7 1082.9,189.3 1083.0,181.0 1083.1,186.9 1083.3,192.9 1083.4,184.4 1083.5,196.2 1083.6,186.7 1083.7,188.2 1083.9,184.8 1084.0,173.5 1084.1,192.0 1084.2,193.7 1084.3,190.2 1084.5,180.9 1084.6,191.9 1084.7,175.2 1084.8,188.6 1084.9,180.6 1085.1,190.1 1085.2,179.1 1085.3,182.0 1085.4,183.5 1085.5,191.7 1085.7,192.0 1085.8,187.5 1085.9,189.5 1086.0,185.9 1086.1,187.0 1086.3,189.4 1086.4,182.4 1086.5,185.7 1086.6,197.2 1086.7,191.0 1086.9,182.2 1087.0,182.6 1087.1,188.7 1087.2,187.4 1087.3,187.4 1087.5,178.9 1087.6,183.5 1087.7,187.2 1087.8,182.7 1088.0,185.4 1088.1,184.4 1088.2,185.5 1088.3,190.6 1088.4,177.0 1088.6,187.6 1088.7,187.6 1088.8,187.2 1088.9,185.7 1089.0,183.5 1089.2,186.6 1089.3,188.6 1089.4,184.4 1089.5,191.2 1089.6,185.4 1089.8,185.0 1089.9,183.4 1090.0,185.9 1090.1,187.3 1090.2,191.2 1090.4,183.4 1090.5,188.4 1090.6,190.8 1090.7,187.1 1090.8,197.6 1091.0,185.8 1091.1,186.1 1091.2,180.9 1091.3,185.9 1091.4,189.2 1091.6,184.1 1091.7,188.2 1091.8,193.8 1091.9,176.8 1092.1,185.0 1092.2,188.0 1092.3,187.9 1092.4,187.9 1092.5,191.2 1092.7,182.6 1092.8,199.1 1092.9,173.9 1093.0,182.6 1093.1,184.3 1093.3,179.7 1093.4,177.8 1093.5,189.8 1093.6,187.9 1093.7,187.6 1093.9,184.2 1094.0,188.0 1094.1,180.2 1094.2,179.4 1094.3,182.4 1094.5,182.2 1094.6,190.5 1094.7,203.3 1094.8,186.3 1094.9,181.1 1095.1,185.9 1095.2,189.0 1095.3,183.5 1095.4,180.6 1095.5,195.3 1095.7,187.4 1095.8,187.5 1095.9,186.2 1096.0,195.3 1096.2,181.2 1096.3,190.9 1096.4,183.6 1096.5,191.8 1096.6,180.3 1096.8,183.7 1096.9,196.7 1097.0,218.0 1097.1,184.2 1097.2,192.1 1097.4,172.0 1097.5,174.3 1097.6,188.4 1097.7,153.7 1097.8,189.5 1098.0,174.4 1098.1,175.7 1098.2,221.8 1098.3,183.6 1098.4,187.1 1098.6,192.6 1098.7,196.1 1098.8,212.8 1098.9,179.9 1099.0,170.8 1099.2,165.8 1099.3,191.7 1099.4,153.5 1099.5,207.0 1099.6,154.5 1099.8,208.5 1099.9,201.5 1100.0,193.6 1100.1,218.7 1100.3,194.3 1100.4,193.2 1100.5,158.6 1100.6,147.0 1100.7,182.2 1100.9,215.2 1101.0,189.8 1101.1,213.6 1101.2,203.4 1101.3,185.2 1101.5,267.5 1101.6,246.5 1101.7,176.9 1101.8,168.0 1101.9,195.2 1102.1,162.1 1102.2,165.8 1102.3,128.2 1102.4,246.5 1102.5,122.0 1102.7,166.7 1102.8,204.3 1102.9,155.5 1103.0,183.7 1103.1,197.5 1103.3,181.0 1103.4,240.1 1103.5,176.6 1103.6,189.2 1103.7,198.0 1103.9,192.7 1104.0,233.5 1104.1,194.4 1104.2,182.6 1104.4,224.2 1104.5,177.1 1104.6,173.7 1104.7,205.8 1104.8,199.5 1105.0,171.2 1105.1,177.9 1105.2,187.1 1105.3,199.0 1105.4,187.4 1105.6,182.5 1105.7,183.7 1105.8,182.7 1105.9,178.1 1106.0,198.1 1106.2,211.3 1106.3,201.1 1106.4,190.9 1106.5,184.9 1106.6,171.6 1106.8,180.9 1106.9,188.9 1107.0,186.8 1107.1,182.2 1107.2,185.4 1107.4,193.5 1107.5,175.9 1107.6,179.5 1107.7,184.7 1107.8,177.0 1108.0,173.0 1108.1,197.6 1108.2,194.5 1108.3,192.5 1108.5,201.4 1108.6,183.1 1108.7,181.8 1108.8,199.7 1108.9,213.3 1109.1,195.1 1109.2,187.1 1109.3,197.9 1109.4,177.4 1109.5,180.8 1109.7,177.9 1109.8,178.5 1109.9,195.8 1110.0,188.5 1110.1,186.0 1110.3,189.3 1110.4,181.7 1110.5,173.1 1110.6,183.3 1110.7,184.9 1110.9,194.4 1111.0,205.7 1111.1,189.6 1111.2,189.6 1111.3,189.9 1111.5,187.5 1111.6,188.9 1111.7,185.4 1111.8,196.6 1111.9,178.4 1112.1,194.3 1112.2,183.2 1112.3,201.0 1112.4,199.4 1112.6,188.3 1112.7,180.2 1112.8,195.4 1112.9,192.8 1113.0,197.6 1113.2,189.5 1113.3,174.3 1113.4,190.3 1113.5,181.9 1113.6,199.9 1113.8,189.2 1113.9,195.7 1114.0,190.9 1114.1,185.9 1114.2,185.7 1114.4,169.4 1114.5,207.6 1114.6,175.8 1114.7,188.8 1114.8,192.3 1115.0,182.4 1115.1,217.0 1115.2,174.1 1115.3,183.7 1115.4,186.3 1115.6,191.0 1115.7,201.4 1115.8,201.0 1115.9,191.7 1116.0,185.5 1116.2,184.9 1116.3,184.7 1116.4,178.4 1116.5,183.2 1116.7,194.2 1116.8,179.4 1116.9,186.8 1117.0,181.8 1117.1,185.7 1117.3,182.0 1117.4,181.1 1117.5,220.6 1117.6,187.6 1117.7,194.0 1117.9,173.3 1118.0,179.2 1118.1,178.4 1118.2,189.0 1118.3,186.6 1118.5,183.4 1118.6,197.1 1118.7,176.4 1118.8,187.6 1118.9,204.5 1119.1,186.5 1119.2,183.0 1119.3,183.2 1119.4,185.1 1119.5,178.4 1119.7,204.1 1119.8,175.0 1119.9,173.8 1120.0,193.8 1120.1,192.8 1120.3,185.4 1120.4,178.7 1120.5,189.6 1120.6,186.3 1120.7,176.8 1120.9,184.0 1121.0,191.9 1121.1,178.5 1121.2,176.5 1121.4,197.6 1121.5,201.5 1121.6,174.8 1121.7,181.9 1121.8,207.1 1122.0,172.4 1122.1,184.4 1122.2,189.4 1122.3,193.2 1122.4,171.4 1122.6,194.0 1122.7,186.7 1122.8,184.2 1122.9,175.2 1123.0,181.0 1123.2,180.8 1123.3,187.8 1123.4,195.7 1123.5,191.1 1123.6,178.9 1123.8,186.5 1123.9,182.3 1124.0,201.2 1124.1,188.0 1124.2,166.4 1124.4,179.9 1124.5,187.6 1124.6,180.8 1124.7,186.8 1124.8,191.2 1125.0,191.4 1125.1,188.6 1125.2,189.4 1125.3,185.0 1125.5,163.0 1125.6,180.6 1125.7,195.7 1125.8,195.5 1125.9,185.4 1126.1,187.1 1126.2,176.8 1126.3,186.8 1126.4,184.8 1126.5,169.4 1126.7,180.6 1126.8,188.9 1126.9,188.6 1127.0,193.1 1127.1,187.8 1127.3,198.4 1127.4,188.2 1127.5,194.6 1127.6,157.2 1127.7,189.8 1127.9,201.5 1128.0,180.3 1128.1,195.2 1128.2,188.9 1128.3,190.5 1128.5,179.6 1128.6,194.4 1128.7,185.0 1128.8,189.2 1128.9,176.5 1129.1,187.4 1129.2,171.2 1129.3,200.6 1129.4,173.9 1129.6,185.5 1129.7,180.2 1129.8,191.4 1129.9,183.6 1130.0,187.9 1130.2,195.7 1130.3,189.9 1130.4,182.4 1130.5,192.0 1130.6,189.5 1130.8,167.9 1130.9,193.1 1131.0,190.1 1131.1,187.5 1131.2,184.6 1131.4,192.1 1131.5,184.1 1131.6,218.9 1131.7,186.2 1131.8,183.9 1132.0,186.4 1132.1,193.7 1132.2,186.4 1132.3,183.6 1132.4,191.8 1132.6,175.3 1132.7,192.4 1132.8,177.2 1132.9,185.6 1133.0,186.3 1133.2,184.2 1133.3,186.6 1133.4,183.9 1133.5,188.2 1133.7,177.1 1133.8,190.2 1133.9,170.5 1134.0,189.6 1134.1,190.3 1134.3,184.7 1134.4,186.5 1134.5,192.2 1134.6,206.5 1134.7,174.0 1134.9,187.1 1135.0,182.7 1135.1,185.7 1135.2,186.2 1135.3,182.8 1135.5,197.2 1135.6,187.9 1135.7,184.8 1135.8,180.1 1135.9,191.2 1136.1,182.0 1136.2,185.3 1136.3,198.8 1136.4,182.4 1136.5,175.7 1136.7,185.5 1136.8,180.5 1136.9,194.5 1137.0,181.7 1137.1,184.7 1137.3,187.7 1137.4,182.1 1137.5,189.3 1137.6,194.7 1137.8,182.4 1137.9,180.8 1138.0,183.9 1138.1,181.3 1138.2,184.9 1138.4,190.8 1138.5,190.1 1138.6,185.9 1138.7,185.9 1138.8,183.4 1139.0,176.2 1139.1,184.2 1139.2,185.4 1139.3,195.4 1139.4,183.5 1139.6,197.8 1139.7,187.4 1139.8,176.3 1139.9,185.1 1140.0,186.5 1140.2,181.9 1140.3,198.6 1140.4,170.9 1140.5,184.0 1140.6,189.4 1140.8,177.5 1140.9,179.0 1141.0,195.3 1141.1,188.4 1141.2,189.6 1141.4,182.9 1141.5,188.4 1141.6,197.1 1141.7,178.8 1141.9,192.5 1142.0,183.1 1142.1,184.6 1142.2,187.0 1142.3,193.5 1142.5,176.3 1142.6,182.4 1142.7,191.1 1142.8,191.1 1142.9,183.0 1143.1,187.2 1143.2,182.0 1143.3,188.6 1143.4,184.9 1143.5,194.2 1143.7,188.7 1143.8,191.7 1143.9,175.3 1144.0,191.0 1144.1,191.4 1144.3,194.5 1144.4,187.9 1144.5,175.7 1144.6,192.4 1144.7,172.4 1144.9,193.0 1145.0,185.3 1145.1,196.1 1145.2,187.8 1145.3,188.9 1145.5,180.4 1145.6,187.1 1145.7,190.9 1145.8,192.4 1146.0,190.1 1146.1,185.0 1146.2,181.8 1146.3,185.4 1146.4,185.3 1146.6,184.2 1146.7,188.1 1146.8,190.6 1146.9,187.4 1147.0,188.0 1147.2,185.9 1147.3,197.8 1147.4,185.7 1147.5,190.6 1147.6,186.8 1147.8,191.9 1147.9,182.7 1148.0,177.1" fill="none" stroke="#FFFF00" stroke-width="1" stroke-linejoin="round" stroke-linecap="round" shape-rendering="crispEdges"/>
</g>
<rect x="1000.5" y="65.5" width="166" height="48" fill="#fff" stroke="#000" stroke-width="1"/>
<line x1="1012" y1="81" x2="1037" y2="81" stroke="#0000FF" stroke-width="2"/>
<line x1="1012" y1="97.5" x2="1037" y2="97.5" stroke="#FFFF00" stroke-width="1"/>
<text x="0" y="0" transform="translate(1048.00,86.60) scale(1,1.075)" text-anchor="start" font-size="13">HOMB stock return</text>
<text x="0" y="0" transform="translate(1048.00,102.60) scale(1,1.075)" text-anchor="start" font-size="13">GSPC stock return</text>
<rect x="665.5" y="65.5" width="501" height="253" fill="none" stroke="#000" stroke-width="1"/>
<line x1="791.5" y1="318" x2="791.5" y2="327" stroke="#000" stroke-width="1"/>
<text x="0" y="0" transform="translate(791.50,348.00) scale(1,1.075)" text-anchor="middle" font-size="13">2010</text>
<line x1="943.5" y1="318" x2="943.5" y2="327" stroke="#000" stroke-width="1"/>
<text x="0" y="0" transform="translate(943.50,348.00) scale(1,1.075)" text-anchor="middle" font-size="13">2015</text>
<line x1="1095.5" y1="318" x2="1095.5" y2="327" stroke="#000" stroke-width="1"/>
<text x="0" y="0" transform="translate(1095.50,348.00) scale(1,1.075)" text-anchor="middle" font-size="13">2020</text>
<line x1="657" y1="293.5" x2="666" y2="293.5" stroke="#000" stroke-width="1"/>
<text x="0" y="0" transform="translate(647.30,294.00) rotate(-90) scale(1,1.075)" text-anchor="middle" font-size="13">-0.15</text>
<line x1="657" y1="258.5" x2="666" y2="258.5" stroke="#000" stroke-width="1"/>
<line x1="657" y1="222.5" x2="666" y2="222.5" stroke="#000" stroke-width="1"/>
<text x="0" y="0" transform="translate(647.30,223.00) rotate(-90) scale(1,1.075)" text-anchor="middle" font-size="13">-0.05</text>
<line x1="657" y1="186.5" x2="666" y2="186.5" stroke="#000" stroke-width="1"/>
<line x1="657" y1="150.5" x2="666" y2="150.5" stroke="#000" stroke-width="1"/>
<text x="0" y="0" transform="translate(647.30,151.00) rotate(-90) scale(1,1.075)" text-anchor="middle" font-size="13">0.05</text>
<line x1="657" y1="114.5" x2="666" y2="114.5" stroke="#000" stroke-width="1"/>
<line x1="657" y1="78.5" x2="666" y2="78.5" stroke="#000" stroke-width="1"/>
<text x="0" y="0" transform="translate(647.30,79.00) rotate(-90) scale(1,1.075)" text-anchor="middle" font-size="13">0.15</text>
<text x="0" y="0" transform="translate(915.20,40.00) scale(1,1.0)" text-anchor="middle" font-size="16" font-weight="bold">HOMB versus S&amp;P500 stock return time-series</text>
<g clip-path="url(#c01)">
<polyline points="71.9,709.0 200.5,709.0 201.0,708.0 231.0,708.0 231.5,707.0 254.5,707.0 256.7,705.5 261.0,702.8 264.3,701.7 269.7,701.7 274.0,699.5 278.3,696.8 283.8,693.5 288.1,691.4 292.4,687.6 295.7,681.0 297.0,679.5 303.0,664.5 307.5,652.5 312.0,643.0 316.5,634.5 321.0,626.2 326.2,619.5 330.0,621.8 336.0,627.8 340.5,634.5 346.5,645.0 350.0,657.0 354.3,669.8 359.8,681.7 366.2,688.2 372.8,694.7 374.6,696.5 379.2,699.2 386.5,701.5 393.0,702.9 402.1,705.2 412.2,705.9 413.0,707.0 421.4,707.0 422.3,708.0 470.0,708.0 470.5,709.0 560.5,709.0" fill="none" stroke="#228B22" stroke-width="2" stroke-linejoin="round" stroke-linecap="round" shape-rendering="crispEdges"/>
<polyline points="138.0,709.5 191.2,709.5 191.2,708.5 197.9,708.5 197.9,709.5 213.0,709.5 213.0,708.5 217.0,708.5 217.0,709.5 227.0,709.5 227.0,708.5 231.0,708.5 231.0,709.5 236.0,709.5 236.0,708.5 245.0,708.5 245.0,709.5 248.3,709.5 248.3,708.5 256.7,708.5 256.7,707.5 274.6,707.5 278.3,705.5 283.8,702.2 289.2,702.2 293.5,697.3 300.0,693.0 306.0,681.0 312.0,666.0 315.0,649.5 317.2,630.0 319.3,620.0 320.2,599.4 321.0,578.8 322.1,563.8 323.4,548.8 324.4,518.8 325.3,505.6 326.2,484.0 328.1,479.4 329.6,484.0 331.0,510.3 332.2,520.6 333.8,546.9 335.2,566.6 336.6,576.0 337.5,591.9 339.0,608.8 339.8,620.0 340.5,624.0 343.5,642.0 348.0,663.0 350.0,675.0 353.2,694.7 357.6,698.5 360.3,698.5 364.6,704.2 368.4,704.4 370.0,705.2 371.8,706.5 377.3,706.5 377.3,707.5 390.6,707.5 390.6,708.5 402.6,708.5 402.6,709.5 410.4,709.5 410.4,708.5 418.6,708.5 418.6,709.5 420.9,709.5 420.9,708.5 426.9,708.5 426.9,709.5 452.1,709.5 452.1,708.5 456.7,708.5 456.7,709.5 498.0,709.5" fill="none" stroke="#FFA500" stroke-width="1" stroke-linejoin="round" stroke-linecap="round" shape-rendering="crispEdges"/>
<line x1="65" y1="709.5" x2="567" y2="709.5" stroke="#BEBEBE" stroke-width="1"/>
</g>
<rect x="65.5" y="465.5" width="197" height="48" fill="#fff" stroke="#000" stroke-width="1"/>
<line x1="77" y1="481" x2="102" y2="481" stroke="#228B22" stroke-width="2"/>
<line x1="77" y1="497.5" x2="102" y2="497.5" stroke="#FFA500" stroke-width="1"/>
<text x="0" y="0" transform="translate(113.00,486.60) scale(1,1.075)" text-anchor="start" font-size="13">HOMB return distribution</text>
<text x="0" y="0" transform="translate(113.00,502.60) scale(1,1.075)" text-anchor="start" font-size="13">GSPC return distribution</text>
<rect x="65.5" y="465.5" width="501" height="253" fill="none" stroke="#000" stroke-width="1"/>
<line x1="114.5" y1="718" x2="114.5" y2="727" stroke="#000" stroke-width="1"/>
<text x="0" y="0" transform="translate(114.50,748.00) scale(1,1.075)" text-anchor="middle" font-size="13">-0.15</text>
<line x1="185.5" y1="718" x2="185.5" y2="727" stroke="#000" stroke-width="1"/>
<text x="0" y="0" transform="translate(185.50,748.00) scale(1,1.075)" text-anchor="middle" font-size="13">-0.10</text>
<line x1="256.5" y1="718" x2="256.5" y2="727" stroke="#000" stroke-width="1"/>
<text x="0" y="0" transform="translate(256.50,748.00) scale(1,1.075)" text-anchor="middle" font-size="13">-0.05</text>
<line x1="327.5" y1="718" x2="327.5" y2="727" stroke="#000" stroke-width="1"/>
<text x="0" y="0" transform="translate(327.50,748.00) scale(1,1.075)" text-anchor="middle" font-size="13">0.00</text>
<line x1="398.5" y1="718" x2="398.5" y2="727" stroke="#000" stroke-width="1"/>
<text x="0" y="0" transform="translate(398.50,748.00) scale(1,1.075)" text-anchor="middle" font-size="13">0.05</text>
<line x1="469.5" y1="718" x2="469.5" y2="727" stroke="#000" stroke-width="1"/>
<text x="0" y="0" transform="translate(469.50,748.00) scale(1,1.075)" text-anchor="middle" font-size="13">0.10</text>
<line x1="541.5" y1="718" x2="541.5" y2="727" stroke="#000" stroke-width="1"/>
<text x="0" y="0" transform="translate(541.50,748.00) scale(1,1.075)" text-anchor="middle" font-size="13">0.15</text>
<line x1="57" y1="709.5" x2="66" y2="709.5" stroke="#000" stroke-width="1"/>
<text x="0" y="0" transform="translate(47.30,710.00) rotate(-90) scale(1,1.075)" text-anchor="middle" font-size="13">0</text>
<line x1="57" y1="672.5" x2="66" y2="672.5" stroke="#000" stroke-width="1"/>
<text x="0" y="0" transform="translate(47.30,673.00) rotate(-90) scale(1,1.075)" text-anchor="middle" font-size="13">10</text>
<line x1="57" y1="635.5" x2="66" y2="635.5" stroke="#000" stroke-width="1"/>
<text x="0" y="0" transform="translate(47.30,636.00) rotate(-90) scale(1,1.075)" text-anchor="middle" font-size="13">20</text>
<line x1="57" y1="598.5" x2="66" y2="598.5" stroke="#000" stroke-width="1"/>
<text x="0" y="0" transform="translate(47.30,599.00) rotate(-90) scale(1,1.075)" text-anchor="middle" font-size="13">30</text>
<line x1="57" y1="561.5" x2="66" y2="561.5" stroke="#000" stroke-width="1"/>
<text x="0" y="0" transform="translate(47.30,562.00) rotate(-90) scale(1,1.075)" text-anchor="middle" font-size="13">40</text>
<line x1="57" y1="525.5" x2="66" y2="525.5" stroke="#000" stroke-width="1"/>
<text x="0" y="0" transform="translate(47.30,526.00) rotate(-90) scale(1,1.075)" text-anchor="middle" font-size="13">50</text>
<line x1="57" y1="488.5" x2="66" y2="488.5" stroke="#000" stroke-width="1"/>
<text x="0" y="0" transform="translate(47.30,489.00) rotate(-90) scale(1,1.075)" text-anchor="middle" font-size="13">60</text>
<text x="0" y="0" transform="translate(315.20,440.00) scale(1,1.0)" text-anchor="middle" font-size="16" font-weight="bold">HOMB versus S&amp;P500 stock return distribution</text>
<g clip-path="url(#c11)">
<line x1="683" y1="716.5" x2="690" y2="716.5" stroke="#000" stroke-width="1"/>
<line x1="689" y1="716.5" x2="695" y2="716.5" stroke="#000" stroke-width="1"/>
<rect x="699.5" y="715.5" width="5" height="1" fill="#0000FF" stroke="#000" stroke-width="1"/>
<line x1="704" y1="716.5" x2="710" y2="716.5" stroke="#000" stroke-width="1"/>
<line x1="715" y1="716.5" x2="721" y2="716.5" stroke="#000" stroke-width="1"/>
<line x1="720" y1="716.5" x2="726" y2="716.5" stroke="#000" stroke-width="1"/>
<line x1="730" y1="716.5" x2="737" y2="716.5" stroke="#000" stroke-width="1"/>
<line x1="736" y1="716.5" x2="742" y2="716.5" stroke="#000" stroke-width="1"/>
<line x1="746" y1="716.5" x2="752" y2="716.5" stroke="#000" stroke-width="1"/>
<line x1="751" y1="716.5" x2="757" y2="716.5" stroke="#000" stroke-width="1"/>
<rect x="762.5" y="715.5" width="5" height="1" fill="#0000FF" stroke="#000" stroke-width="1"/>
<line x1="767" y1="716.5" x2="773" y2="716.5" stroke="#000" stroke-width="1"/>
<line x1="777" y1="716.5" x2="783" y2="716.5" stroke="#000" stroke-width="1"/>
<line x1="782" y1="716.5" x2="789" y2="716.5" stroke="#000" stroke-width="1"/>
<rect x="793.5" y="715.5" width="5" height="1" fill="#0000FF" stroke="#000" stroke-width="1"/>
<line x1="798" y1="716.5" x2="804" y2="716.5" stroke="#000" stroke-width="1"/>
<rect x="809.5" y="714.5" width="5" height="2" fill="#0000FF" stroke="#000" stroke-width="1"/>
<line x1="814" y1="716.5" x2="820" y2="716.5" stroke="#000" stroke-width="1"/>
<rect x="824.5" y="714.5" width="5" height="2" fill="#0000FF" stroke="#000" stroke-width="1"/>
<rect x="829.5" y="715.5" width="6" height="1" fill="#FFFF00" stroke="#000" stroke-width="1"/>
<rect x="840.5" y="713.5" width="5" height="3" fill="#0000FF" stroke="#000" stroke-width="1"/>
<rect x="845.5" y="715.5" width="5" height="1" fill="#FFFF00" stroke="#000" stroke-width="1"/>
<rect x="855.5" y="707.5" width="6" height="9" fill="#0000FF" stroke="#000" stroke-width="1"/>
<rect x="861.5" y="713.5" width="5" height="3" fill="#FFFF00" stroke="#000" stroke-width="1"/>
<rect x="871.5" y="698.5" width="5" height="18" fill="#0000FF" stroke="#000" stroke-width="1"/>
<rect x="876.5" y="710.5" width="6" height="6" fill="#FFFF00" stroke="#000" stroke-width="1"/>
<rect x="887.5" y="679.5" width="5" height="37" fill="#0000FF" stroke="#000" stroke-width="1"/>
<rect x="892.5" y="699.5" width="5" height="17" fill="#FFFF00" stroke="#000" stroke-width="1"/>
<rect x="902.5" y="626.5" width="6" height="90" fill="#0000FF" stroke="#000" stroke-width="1"/>
<rect x="908.5" y="662.5" width="5" height="54" fill="#FFFF00" stroke="#000" stroke-width="1"/>
<rect x="918.5" y="575.5" width="5" height="141" fill="#0000FF" stroke="#000" stroke-width="1"/>
<rect x="923.5" y="455.5" width="5" height="261" fill="#FFFF00" stroke="#000" stroke-width="1"/>
<rect x="934.5" y="593.5" width="5" height="123" fill="#0000FF" stroke="#000" stroke-width="1"/>
<rect x="939.5" y="550.5" width="5" height="166" fill="#FFFF00" stroke="#000" stroke-width="1"/>
<rect x="949.5" y="652.5" width="6" height="64" fill="#0000FF" stroke="#000" stroke-width="1"/>
<rect x="955.5" y="684.5" width="5" height="32" fill="#FFFF00" stroke="#000" stroke-width="1"/>
<rect x="965.5" y="688.5" width="5" height="28" fill="#0000FF" stroke="#000" stroke-width="1"/>
<rect x="970.5" y="709.5" width="5" height="7" fill="#FFFF00" stroke="#000" stroke-width="1"/>
<rect x="981.5" y="703.5" width="5" height="13" fill="#0000FF" stroke="#000" stroke-width="1"/>
<rect x="986.5" y="713.5" width="5" height="3" fill="#FFFF00" stroke="#000" stroke-width="1"/>
<rect x="996.5" y="710.5" width="5" height="6" fill="#0000FF" stroke="#000" stroke-width="1"/>
<rect x="1001.5" y="715.5" width="6" height="1" fill="#FFFF00" stroke="#000" stroke-width="1"/>
<rect x="1012.5" y="712.5" width="5" height="4" fill="#0000FF" stroke="#000" stroke-width="1"/>
<rect x="1017.5" y="715.5" width="5" height="1" fill="#FFFF00" stroke="#000" stroke-width="1"/>
<rect x="1028.5" y="715.5" width="5" height="1" fill="#0000FF" stroke="#000" stroke-width="1"/>
<rect x="1033.5" y="715.5" width="5" height="1" fill="#FFFF00" stroke="#000" stroke-width="1"/>
<rect x="1043.5" y="715.5" width="5" height="1" fill="#0000FF" stroke="#000" stroke-width="1"/>
<line x1="1048" y1="716.5" x2="1055" y2="716.5" stroke="#000" stroke-width="1"/>
<rect x="1059.5" y="715.5" width="5" height="1" fill="#0000FF" stroke="#000" stroke-width="1"/>
<line x1="1064" y1="716.5" x2="1070" y2="716.5" stroke="#000" stroke-width="1"/>
<rect x="1074.5" y="715.5" width="6" height="1" fill="#0000FF" stroke="#000" stroke-width="1"/>
<rect x="1080.5" y="715.5" width="5" height="1" fill="#FFFF00" stroke="#000" stroke-width="1"/>
<rect x="1090.5" y="715.5" width="5" height="1" fill="#0000FF" stroke="#000" stroke-width="1"/>
<line x1="1095" y1="716.5" x2="1102" y2="716.5" stroke="#000" stroke-width="1"/>
<line x1="1106" y1="716.5" x2="1112" y2="716.5" stroke="#000" stroke-width="1"/>
<line x1="1111" y1="716.5" x2="1117" y2="716.5" stroke="#000" stroke-width="1"/>
<rect x="1121.5" y="715.5" width="6" height="1" fill="#0000FF" stroke="#000" stroke-width="1"/>
<line x1="1127" y1="716.5" x2="1133" y2="716.5" stroke="#000" stroke-width="1"/>
<rect x="1137.5" y="715.5" width="5" height="1" fill="#0000FF" stroke="#000" stroke-width="1"/>
<line x1="1142" y1="716.5" x2="1148" y2="716.5" stroke="#000" stroke-width="1"/>
</g>
<rect x="991.5" y="465.5" width="175" height="48" fill="#fff" stroke="#000" stroke-width="1"/>
<rect x="1003.5" y="477.5" width="9" height="8" fill="#0000FF" stroke="#000" stroke-width="1"/>
<rect x="1003.5" y="493.5" width="9" height="8" fill="#FFFF00" stroke="#000" stroke-width="1"/>
<text x="0" y="0" transform="translate(1024.00,486.60) scale(1,1.075)" text-anchor="start" font-size="13">HOMB return frequency</text>
<text x="0" y="0" transform="translate(1024.00,502.60) scale(1,1.075)" text-anchor="start" font-size="13">GSPC return frequency</text>
<rect x="665.5" y="465.5" width="501" height="253" fill="none" stroke="#000" stroke-width="1"/>
<line x1="657" y1="716.5" x2="666" y2="716.5" stroke="#000" stroke-width="1"/>
<text x="0" y="0" transform="translate(647.30,717.00) rotate(-90) scale(1,1.075)" text-anchor="middle" font-size="13">0</text>
<line x1="657" y1="645.5" x2="666" y2="645.5" stroke="#000" stroke-width="1"/>
<text x="0" y="0" transform="translate(647.30,646.00) rotate(-90) scale(1,1.075)" text-anchor="middle" font-size="13">500</text>
<line x1="657" y1="575.5" x2="666" y2="575.5" stroke="#000" stroke-width="1"/>
<text x="0" y="0" transform="translate(647.30,576.00) rotate(-90) scale(1,1.075)" text-anchor="middle" font-size="13">1000</text>
<line x1="657" y1="504.5" x2="666" y2="504.5" stroke="#000" stroke-width="1"/>
<text x="0" y="0" transform="translate(647.30,505.00) rotate(-90) scale(1,1.075)" text-anchor="middle" font-size="13">1500</text>
<text x="0" y="0" transform="translate(689.12,748.00) scale(1,1.075)" text-anchor="middle" font-size="13">[-0.171,-0.161)</text>
<text x="0" y="0" transform="translate(798.61,748.00) scale(1,1.075)" text-anchor="middle" font-size="13">[-0.0953,-0.0844)</text>
<text x="0" y="0" transform="translate(923.75,748.00) scale(1,1.075)" text-anchor="middle" font-size="13">[-0.00827,0.0026)</text>
<text x="0" y="0" transform="translate(1033.24,748.00) scale(1,1.075)" text-anchor="middle" font-size="13">[0.0679,0.0787)</text>
<text x="0" y="0" transform="translate(1142.73,748.00) scale(1,1.075)" text-anchor="middle" font-size="13">[0.144,0.155]</text>
<text x="0" y="0" transform="translate(915.20,779.50) scale(1,1.075)" text-anchor="middle" font-size="13">return</text>
<text x="0" y="0" transform="translate(615.80,592.00) rotate(-90) scale(1,1.075)" text-anchor="middle" font-size="13">frequency</text>
<text x="0" y="0" transform="translate(915.20,440.00) scale(1,1.0)" text-anchor="middle" font-size="16" font-weight="bold">HOMB versus S&amp;P500 return frequency distribution</text>
</svg>
</body></html>
